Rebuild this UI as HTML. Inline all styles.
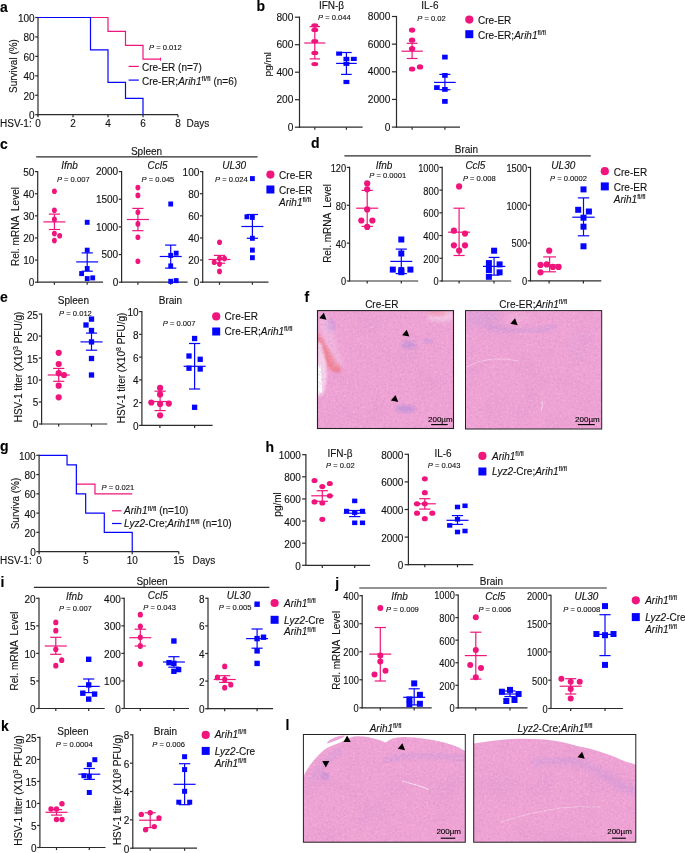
<!DOCTYPE html>
<html><head><meta charset="utf-8"><style>
html,body{margin:0;padding:0;background:#fff;}
svg{display:block;font-family:"Liberation Sans", sans-serif;will-change:transform;}
text{stroke:#111;stroke-width:0.12px;paint-order:stroke;}
</style></head><body>
<svg width="685" height="853" viewBox="0 0 685 853">
<defs>
<filter id="tex" x="0" y="0" width="100%" height="100%" color-interpolation-filters="sRGB">
  <feTurbulence type="fractalNoise" baseFrequency="0.42" numOctaves="2" seed="3" result="n"/>
  <feColorMatrix in="n" type="matrix" values="0 0 0 0 0.80  0 0 0 0 0.50  0 0 0 0 0.78  2.2 0 0 0 -1.15" result="dark"/>
  <feTurbulence type="fractalNoise" baseFrequency="0.45" numOctaves="2" seed="11" result="n2"/>
  <feColorMatrix in="n2" type="matrix" values="0 0 0 0 1.0  0 0 0 0 0.80  0 0 0 0 0.92  2.2 0 0 0 -1.15" result="light"/>
  <feTurbulence type="fractalNoise" baseFrequency="0.035" numOctaves="2" seed="5" result="n3"/>
  <feColorMatrix in="n3" type="matrix" values="0 0 0 0 0.82  0 0 0 0 0.56  0 0 0 0 0.80  1.4 0 0 0 -0.7" result="low"/>
  <feMerge result="m"><feMergeNode in="low"/><feMergeNode in="dark"/><feMergeNode in="light"/></feMerge>
  <feGaussianBlur in="m" stdDeviation="0.45" result="mb"/>
  <feComposite in="mb" in2="SourceAlpha" operator="in"/>
</filter>
<filter id="bl2"><feGaussianBlur stdDeviation="2"/></filter>
<filter id="bl1"><feGaussianBlur stdDeviation="1"/></filter>
<filter id="bl3"><feGaussianBlur stdDeviation="3.5"/></filter>
<clipPath id="cf1"><rect x="317.5" y="310.6" width="136" height="117.9"/></clipPath>
<clipPath id="cf2"><rect x="465.5" y="310.6" width="136.2" height="118.4"/></clipPath>
<clipPath id="cl1"><rect x="303.4" y="734.5" width="161.9" height="107.7"/></clipPath>
<clipPath id="cl2"><rect x="473.7" y="734.5" width="162.1" height="107.7"/></clipPath>
</defs>
<text x="0.00" y="11.50" font-size="14" text-anchor="start" font-weight="bold" font-style="normal" fill="#000">a</text>
<line x1="38.00" y1="115.30" x2="38.00" y2="16.90" stroke="#2b2b2b" stroke-width="1.2"/>
<line x1="35.20" y1="114.70" x2="38.00" y2="114.70" stroke="#2b2b2b" stroke-width="1.2"/>
<text x="34.60" y="119.15" font-size="10.0" text-anchor="end" font-weight="normal" font-style="normal" fill="#111">0</text>
<line x1="35.20" y1="95.26" x2="38.00" y2="95.26" stroke="#2b2b2b" stroke-width="1.2"/>
<text x="34.60" y="99.71" font-size="10.0" text-anchor="end" font-weight="normal" font-style="normal" fill="#111">20</text>
<line x1="35.20" y1="75.82" x2="38.00" y2="75.82" stroke="#2b2b2b" stroke-width="1.2"/>
<text x="34.60" y="80.27" font-size="10.0" text-anchor="end" font-weight="normal" font-style="normal" fill="#111">40</text>
<line x1="35.20" y1="56.38" x2="38.00" y2="56.38" stroke="#2b2b2b" stroke-width="1.2"/>
<text x="34.60" y="60.83" font-size="10.0" text-anchor="end" font-weight="normal" font-style="normal" fill="#111">60</text>
<line x1="35.20" y1="36.94" x2="38.00" y2="36.94" stroke="#2b2b2b" stroke-width="1.2"/>
<text x="34.60" y="41.39" font-size="10.0" text-anchor="end" font-weight="normal" font-style="normal" fill="#111">80</text>
<line x1="35.20" y1="17.50" x2="38.00" y2="17.50" stroke="#2b2b2b" stroke-width="1.2"/>
<text x="34.60" y="21.95" font-size="10.0" text-anchor="end" font-weight="normal" font-style="normal" fill="#111">100</text>
<line x1="37.40" y1="114.70" x2="178.00" y2="114.70" stroke="#2b2b2b" stroke-width="1.2"/>
<line x1="38.00" y1="114.70" x2="38.00" y2="117.30" stroke="#2b2b2b" stroke-width="1.2"/>
<text x="38.00" y="127.20" font-size="10.0" text-anchor="middle" font-weight="normal" font-style="normal" fill="#111">0</text>
<line x1="73.00" y1="114.70" x2="73.00" y2="117.30" stroke="#2b2b2b" stroke-width="1.2"/>
<text x="73.00" y="127.20" font-size="10.0" text-anchor="middle" font-weight="normal" font-style="normal" fill="#111">2</text>
<line x1="108.00" y1="114.70" x2="108.00" y2="117.30" stroke="#2b2b2b" stroke-width="1.2"/>
<text x="108.00" y="127.20" font-size="10.0" text-anchor="middle" font-weight="normal" font-style="normal" fill="#111">4</text>
<line x1="143.00" y1="114.70" x2="143.00" y2="117.30" stroke="#2b2b2b" stroke-width="1.2"/>
<text x="143.00" y="127.20" font-size="10.0" text-anchor="middle" font-weight="normal" font-style="normal" fill="#111">6</text>
<line x1="178.00" y1="114.70" x2="178.00" y2="117.30" stroke="#2b2b2b" stroke-width="1.2"/>
<text x="178.00" y="127.20" font-size="10.0" text-anchor="middle" font-weight="normal" font-style="normal" fill="#111">8</text>
<text x="0.00" y="127.20" font-size="10.0" text-anchor="start" font-weight="normal" font-style="normal" fill="#111">HSV-1:</text>
<text x="186.50" y="127.20" font-size="10.0" text-anchor="start" font-weight="normal" font-style="normal" fill="#111">Days</text>
<text x="16.50" y="66.00" font-size="10.0" text-anchor="middle" font-weight="normal" font-style="normal" fill="#111" transform="rotate(-90 16.50 66.00)" xml:space="preserve">Survival (%)</text>
<polyline points="38.00,17.50 108.00,17.50 108.00,31.40 125.50,31.40 125.50,45.30 143.00,45.30 143.00,59.20 160.50,59.20" fill="none" stroke="#ef157c" stroke-width="1.2"/>
<line x1="160.50" y1="57.70" x2="160.50" y2="60.70" stroke="#ef157c" stroke-width="1.0"/>
<polyline points="38.00,17.50 90.50,17.50 90.50,49.87 108.00,49.87 108.00,82.33 125.50,82.33 125.50,98.47 143.00,98.47 143.00,114.70" fill="none" stroke="#0505ff" stroke-width="1.2"/>
<text x="149.00" y="49.50" font-size="7.6" fill="#111" text-anchor="start"><tspan font-style="italic">P</tspan> = 0.012</text>
<line x1="128.60" y1="66.40" x2="138.80" y2="66.40" stroke="#ef157c" stroke-width="1.2"/>
<text x="142.00" y="71.10" font-size="10.0" text-anchor="start" font-weight="normal" font-style="normal" fill="#111">Cre-ER (n=7)</text>
<line x1="128.60" y1="80.10" x2="138.80" y2="80.10" stroke="#0505ff" stroke-width="1.2"/>
<text x="142.00" y="84.50" font-size="10.0" fill="#111" text-anchor="start">Cre-ER;<tspan font-style="italic">Arih1</tspan><tspan font-size="7.2" dy="-3.4" font-style="normal">fl/fl</tspan><tspan dy="3.4"> </tspan>(n=6)</text>
<text x="256.50" y="10.50" font-size="14" text-anchor="start" font-weight="bold" font-style="normal" fill="#000">b</text>
<line x1="299.50" y1="127.80" x2="299.50" y2="16.60" stroke="#2b2b2b" stroke-width="1.2"/>
<line x1="294.90" y1="127.20" x2="299.50" y2="127.20" stroke="#2b2b2b" stroke-width="1.2"/>
<text x="293.40" y="130.62" font-size="10.2" text-anchor="end" font-weight="normal" font-style="normal" fill="#111">0</text>
<line x1="294.90" y1="99.70" x2="299.50" y2="99.70" stroke="#2b2b2b" stroke-width="1.2"/>
<text x="293.40" y="103.12" font-size="10.2" text-anchor="end" font-weight="normal" font-style="normal" fill="#111">200</text>
<line x1="294.90" y1="72.20" x2="299.50" y2="72.20" stroke="#2b2b2b" stroke-width="1.2"/>
<text x="293.40" y="75.62" font-size="10.2" text-anchor="end" font-weight="normal" font-style="normal" fill="#111">400</text>
<line x1="294.90" y1="44.70" x2="299.50" y2="44.70" stroke="#2b2b2b" stroke-width="1.2"/>
<text x="293.40" y="48.12" font-size="10.2" text-anchor="end" font-weight="normal" font-style="normal" fill="#111">600</text>
<line x1="294.90" y1="17.20" x2="299.50" y2="17.20" stroke="#2b2b2b" stroke-width="1.2"/>
<text x="293.40" y="20.62" font-size="10.2" text-anchor="end" font-weight="normal" font-style="normal" fill="#111">800</text>
<line x1="298.90" y1="127.20" x2="362.60" y2="127.20" stroke="#2b2b2b" stroke-width="1.2"/>
<line x1="314.80" y1="127.20" x2="314.80" y2="129.80" stroke="#2b2b2b" stroke-width="1.2"/>
<line x1="346.40" y1="127.20" x2="346.40" y2="129.80" stroke="#2b2b2b" stroke-width="1.2"/>
<text x="331.50" y="8.80" font-size="10.0" text-anchor="middle" font-weight="normal" font-style="normal" fill="#111">IFN-β</text>
<text x="318.00" y="20.30" font-size="7.6" fill="#111" text-anchor="start"><tspan font-style="italic">P</tspan> = 0.044</text>
<text x="0" y="0" transform="translate(270.60 64.20) rotate(-90) scale(1 0.82)" font-size="10.0" text-anchor="middle" fill="#111" xml:space="preserve">pg/ml</text>
<ellipse cx="314.80" cy="25.50" rx="3.5" ry="2.2" fill="#ef157c"/>
<ellipse cx="314.80" cy="30.00" rx="3.5" ry="2.2" fill="#ef157c"/>
<ellipse cx="314.80" cy="41.20" rx="3.5" ry="2.2" fill="#ef157c"/>
<ellipse cx="314.80" cy="52.90" rx="3.5" ry="2.2" fill="#ef157c"/>
<ellipse cx="314.80" cy="64.10" rx="3.5" ry="2.2" fill="#ef157c"/>
<line x1="304.20" y1="43.00" x2="325.40" y2="43.00" stroke="#ef157c" stroke-width="1.2"/>
<line x1="314.80" y1="26.60" x2="314.80" y2="58.90" stroke="#ef157c" stroke-width="1.2"/>
<line x1="309.60" y1="26.60" x2="320.00" y2="26.60" stroke="#ef157c" stroke-width="1.2"/>
<line x1="309.60" y1="58.90" x2="320.00" y2="58.90" stroke="#ef157c" stroke-width="1.2"/>
<rect x="336.15" y="51.50" width="5.9" height="4.2" fill="#0505ff"/>
<rect x="343.45" y="56.80" width="5.9" height="4.2" fill="#0505ff"/>
<rect x="350.85" y="56.80" width="5.9" height="4.2" fill="#0505ff"/>
<rect x="343.45" y="61.70" width="5.9" height="4.2" fill="#0505ff"/>
<rect x="343.45" y="79.90" width="5.9" height="4.2" fill="#0505ff"/>
<line x1="336.10" y1="63.40" x2="356.70" y2="63.40" stroke="#0505ff" stroke-width="1.2"/>
<line x1="346.40" y1="52.50" x2="346.40" y2="74.40" stroke="#0505ff" stroke-width="1.2"/>
<line x1="341.10" y1="52.50" x2="351.70" y2="52.50" stroke="#0505ff" stroke-width="1.2"/>
<line x1="341.10" y1="74.40" x2="351.70" y2="74.40" stroke="#0505ff" stroke-width="1.2"/>
<line x1="396.50" y1="127.70" x2="396.50" y2="15.90" stroke="#2b2b2b" stroke-width="1.2"/>
<line x1="391.90" y1="127.10" x2="396.50" y2="127.10" stroke="#2b2b2b" stroke-width="1.2"/>
<text x="390.40" y="130.52" font-size="10.2" text-anchor="end" font-weight="normal" font-style="normal" fill="#111">0</text>
<line x1="391.90" y1="99.45" x2="396.50" y2="99.45" stroke="#2b2b2b" stroke-width="1.2"/>
<text x="390.40" y="102.87" font-size="10.2" text-anchor="end" font-weight="normal" font-style="normal" fill="#111">2000</text>
<line x1="391.90" y1="71.80" x2="396.50" y2="71.80" stroke="#2b2b2b" stroke-width="1.2"/>
<text x="390.40" y="75.22" font-size="10.2" text-anchor="end" font-weight="normal" font-style="normal" fill="#111">4000</text>
<line x1="391.90" y1="44.15" x2="396.50" y2="44.15" stroke="#2b2b2b" stroke-width="1.2"/>
<text x="390.40" y="47.57" font-size="10.2" text-anchor="end" font-weight="normal" font-style="normal" fill="#111">6000</text>
<line x1="391.90" y1="16.50" x2="396.50" y2="16.50" stroke="#2b2b2b" stroke-width="1.2"/>
<text x="390.40" y="19.92" font-size="10.2" text-anchor="end" font-weight="normal" font-style="normal" fill="#111">8000</text>
<line x1="395.90" y1="127.20" x2="460.00" y2="127.20" stroke="#2b2b2b" stroke-width="1.2"/>
<line x1="412.10" y1="127.20" x2="412.10" y2="129.80" stroke="#2b2b2b" stroke-width="1.2"/>
<line x1="444.90" y1="127.20" x2="444.90" y2="129.80" stroke="#2b2b2b" stroke-width="1.2"/>
<text x="429.90" y="8.80" font-size="10.0" text-anchor="middle" font-weight="normal" font-style="normal" fill="#111">IL-6</text>
<text x="417.20" y="20.50" font-size="7.6" fill="#111" text-anchor="start"><tspan font-style="italic">P</tspan> = 0.02</text>
<ellipse cx="412.10" cy="30.10" rx="3.2" ry="2.6" fill="#ef157c"/>
<ellipse cx="412.10" cy="40.20" rx="3.2" ry="2.6" fill="#ef157c"/>
<ellipse cx="412.10" cy="48.70" rx="3.2" ry="2.6" fill="#ef157c"/>
<ellipse cx="412.10" cy="69.00" rx="3.2" ry="2.6" fill="#ef157c"/>
<ellipse cx="420.00" cy="66.90" rx="3.2" ry="2.6" fill="#ef157c"/>
<line x1="401.40" y1="51.20" x2="422.80" y2="51.20" stroke="#ef157c" stroke-width="1.2"/>
<line x1="412.10" y1="43.30" x2="412.10" y2="58.50" stroke="#ef157c" stroke-width="1.2"/>
<line x1="406.70" y1="43.30" x2="417.50" y2="43.30" stroke="#ef157c" stroke-width="1.2"/>
<line x1="406.70" y1="58.50" x2="417.50" y2="58.50" stroke="#ef157c" stroke-width="1.2"/>
<rect x="442.10" y="54.70" width="5.6" height="4.8" fill="#0505ff"/>
<rect x="442.10" y="73.00" width="5.6" height="4.8" fill="#0505ff"/>
<rect x="434.10" y="85.20" width="5.6" height="4.8" fill="#0505ff"/>
<rect x="442.10" y="87.00" width="5.6" height="4.8" fill="#0505ff"/>
<rect x="442.10" y="99.00" width="5.6" height="4.8" fill="#0505ff"/>
<line x1="434.10" y1="82.40" x2="455.70" y2="82.40" stroke="#0505ff" stroke-width="1.2"/>
<line x1="444.90" y1="74.40" x2="444.90" y2="89.70" stroke="#0505ff" stroke-width="1.2"/>
<line x1="439.40" y1="74.40" x2="450.40" y2="74.40" stroke="#0505ff" stroke-width="1.2"/>
<line x1="439.40" y1="89.70" x2="450.40" y2="89.70" stroke="#0505ff" stroke-width="1.2"/>
<ellipse cx="469.30" cy="19.60" rx="4.1" ry="4.1" fill="#ef157c"/>
<rect x="465.30" y="30.20" width="8.0" height="8.0" fill="#0505ff"/>
<text x="478.00" y="24.10" font-size="10.0" text-anchor="start" font-weight="normal" font-style="normal" fill="#111">Cre-ER</text>
<text x="478.00" y="38.70" font-size="10.0" fill="#111" text-anchor="start">Cre-ER;<tspan font-style="italic">Arih1</tspan><tspan font-size="6.6" dy="-3.9" font-style="normal">fl/fl</tspan><tspan dy="3.9"></tspan></text>
<text x="0.00" y="148.60" font-size="14" text-anchor="start" font-weight="bold" font-style="normal" fill="#000">c</text>
<line x1="36.20" y1="156.90" x2="257.60" y2="156.90" stroke="#2b2b2b" stroke-width="1.2"/>
<text x="146.50" y="155.10" font-size="10.0" text-anchor="middle" font-weight="normal" font-style="normal" fill="#111">Spleen</text>
<text x="18.50" y="226.50" font-size="10.0" text-anchor="middle" font-weight="normal" font-style="normal" fill="#111" transform="rotate(-90 18.50 226.50)" xml:space="preserve">Rel. mRNA  Level</text>
<line x1="37.70" y1="282.80" x2="37.70" y2="171.00" stroke="#2b2b2b" stroke-width="1.2"/>
<line x1="34.90" y1="282.20" x2="37.70" y2="282.20" stroke="#2b2b2b" stroke-width="1.2"/>
<text x="34.30" y="286.25" font-size="10.0" text-anchor="end" font-weight="normal" font-style="normal" fill="#111">0</text>
<line x1="34.90" y1="260.08" x2="37.70" y2="260.08" stroke="#2b2b2b" stroke-width="1.2"/>
<text x="34.30" y="264.13" font-size="10.0" text-anchor="end" font-weight="normal" font-style="normal" fill="#111">10</text>
<line x1="34.90" y1="237.96" x2="37.70" y2="237.96" stroke="#2b2b2b" stroke-width="1.2"/>
<text x="34.30" y="242.01" font-size="10.0" text-anchor="end" font-weight="normal" font-style="normal" fill="#111">20</text>
<line x1="34.90" y1="215.84" x2="37.70" y2="215.84" stroke="#2b2b2b" stroke-width="1.2"/>
<text x="34.30" y="219.89" font-size="10.0" text-anchor="end" font-weight="normal" font-style="normal" fill="#111">30</text>
<line x1="34.90" y1="193.72" x2="37.70" y2="193.72" stroke="#2b2b2b" stroke-width="1.2"/>
<text x="34.30" y="197.77" font-size="10.0" text-anchor="end" font-weight="normal" font-style="normal" fill="#111">40</text>
<line x1="34.90" y1="171.60" x2="37.70" y2="171.60" stroke="#2b2b2b" stroke-width="1.2"/>
<text x="34.30" y="175.65" font-size="10.0" text-anchor="end" font-weight="normal" font-style="normal" fill="#111">50</text>
<line x1="37.10" y1="282.20" x2="103.00" y2="282.20" stroke="#2b2b2b" stroke-width="1.2"/>
<line x1="54.40" y1="282.20" x2="54.40" y2="284.80" stroke="#2b2b2b" stroke-width="1.2"/>
<line x1="87.20" y1="282.20" x2="87.20" y2="284.80" stroke="#2b2b2b" stroke-width="1.2"/>
<text x="69.60" y="169.00" font-size="10.0" text-anchor="middle" font-weight="normal" font-style="italic" fill="#111">Ifnb</text>
<text x="56.90" y="182.10" font-size="7.6" fill="#111" text-anchor="start"><tspan font-style="italic">P</tspan> = 0.007</text>
<ellipse cx="54.40" cy="191.30" rx="2.45" ry="2.8" fill="#ef157c"/>
<ellipse cx="54.40" cy="210.20" rx="2.45" ry="2.8" fill="#ef157c"/>
<ellipse cx="54.40" cy="219.40" rx="2.45" ry="2.8" fill="#ef157c"/>
<ellipse cx="54.40" cy="233.60" rx="2.45" ry="2.8" fill="#ef157c"/>
<ellipse cx="59.70" cy="235.70" rx="2.45" ry="2.8" fill="#ef157c"/>
<ellipse cx="54.40" cy="240.60" rx="2.45" ry="2.8" fill="#ef157c"/>
<line x1="43.40" y1="221.90" x2="65.40" y2="221.90" stroke="#ef157c" stroke-width="1.2"/>
<line x1="54.40" y1="214.10" x2="54.40" y2="229.50" stroke="#ef157c" stroke-width="1.2"/>
<line x1="48.80" y1="214.10" x2="60.00" y2="214.10" stroke="#ef157c" stroke-width="1.2"/>
<line x1="48.80" y1="229.50" x2="60.00" y2="229.50" stroke="#ef157c" stroke-width="1.2"/>
<rect x="84.80" y="219.80" width="4.8" height="5.0" fill="#0505ff"/>
<rect x="84.80" y="247.70" width="4.8" height="5.0" fill="#0505ff"/>
<rect x="84.80" y="266.00" width="4.8" height="5.0" fill="#0505ff"/>
<rect x="79.20" y="271.10" width="4.8" height="5.0" fill="#0505ff"/>
<rect x="84.80" y="276.10" width="4.8" height="5.0" fill="#0505ff"/>
<rect x="90.30" y="275.40" width="4.8" height="5.0" fill="#0505ff"/>
<line x1="76.20" y1="261.90" x2="98.20" y2="261.90" stroke="#0505ff" stroke-width="1.2"/>
<line x1="87.20" y1="252.90" x2="87.20" y2="271.20" stroke="#0505ff" stroke-width="1.2"/>
<line x1="81.60" y1="252.90" x2="92.80" y2="252.90" stroke="#0505ff" stroke-width="1.2"/>
<line x1="81.60" y1="271.20" x2="92.80" y2="271.20" stroke="#0505ff" stroke-width="1.2"/>
<line x1="121.60" y1="282.80" x2="121.60" y2="171.00" stroke="#2b2b2b" stroke-width="1.2"/>
<line x1="118.80" y1="282.20" x2="121.60" y2="282.20" stroke="#2b2b2b" stroke-width="1.2"/>
<text x="118.20" y="286.05" font-size="10.0" text-anchor="end" font-weight="normal" font-style="normal" fill="#111">0</text>
<line x1="118.80" y1="254.55" x2="121.60" y2="254.55" stroke="#2b2b2b" stroke-width="1.2"/>
<text x="118.20" y="258.40" font-size="10.0" text-anchor="end" font-weight="normal" font-style="normal" fill="#111">500</text>
<line x1="118.80" y1="226.90" x2="121.60" y2="226.90" stroke="#2b2b2b" stroke-width="1.2"/>
<text x="118.20" y="230.75" font-size="10.0" text-anchor="end" font-weight="normal" font-style="normal" fill="#111">1000</text>
<line x1="118.80" y1="199.25" x2="121.60" y2="199.25" stroke="#2b2b2b" stroke-width="1.2"/>
<text x="118.20" y="203.10" font-size="10.0" text-anchor="end" font-weight="normal" font-style="normal" fill="#111">1500</text>
<line x1="118.80" y1="171.60" x2="121.60" y2="171.60" stroke="#2b2b2b" stroke-width="1.2"/>
<text x="118.20" y="175.45" font-size="10.0" text-anchor="end" font-weight="normal" font-style="normal" fill="#111">2000</text>
<line x1="121.00" y1="282.20" x2="187.60" y2="282.20" stroke="#2b2b2b" stroke-width="1.2"/>
<line x1="137.90" y1="282.20" x2="137.90" y2="284.80" stroke="#2b2b2b" stroke-width="1.2"/>
<line x1="170.70" y1="282.20" x2="170.70" y2="284.80" stroke="#2b2b2b" stroke-width="1.2"/>
<text x="157.60" y="169.00" font-size="10.0" text-anchor="middle" font-weight="normal" font-style="italic" fill="#111">Ccl5</text>
<text x="141.60" y="182.10" font-size="7.6" fill="#111" text-anchor="start"><tspan font-style="italic">P</tspan> = 0.045</text>
<ellipse cx="137.90" cy="187.60" rx="2.45" ry="2.8" fill="#ef157c"/>
<ellipse cx="137.90" cy="195.40" rx="2.45" ry="2.8" fill="#ef157c"/>
<ellipse cx="137.90" cy="212.30" rx="2.45" ry="2.8" fill="#ef157c"/>
<ellipse cx="137.90" cy="223.90" rx="2.45" ry="2.8" fill="#ef157c"/>
<ellipse cx="137.90" cy="237.30" rx="2.45" ry="2.8" fill="#ef157c"/>
<ellipse cx="137.90" cy="261.30" rx="2.45" ry="2.8" fill="#ef157c"/>
<line x1="126.90" y1="219.50" x2="148.90" y2="219.50" stroke="#ef157c" stroke-width="1.2"/>
<line x1="137.90" y1="208.40" x2="137.90" y2="230.70" stroke="#ef157c" stroke-width="1.2"/>
<line x1="132.30" y1="208.40" x2="143.50" y2="208.40" stroke="#ef157c" stroke-width="1.2"/>
<line x1="132.30" y1="230.70" x2="143.50" y2="230.70" stroke="#ef157c" stroke-width="1.2"/>
<rect x="168.30" y="201.50" width="4.8" height="5.0" fill="#0505ff"/>
<rect x="173.80" y="250.70" width="4.8" height="5.0" fill="#0505ff"/>
<rect x="168.30" y="252.90" width="4.8" height="5.0" fill="#0505ff"/>
<rect x="168.30" y="263.40" width="4.8" height="5.0" fill="#0505ff"/>
<rect x="168.30" y="278.80" width="4.8" height="5.0" fill="#0505ff"/>
<rect x="173.80" y="278.10" width="4.8" height="5.0" fill="#0505ff"/>
<line x1="159.70" y1="256.50" x2="181.70" y2="256.50" stroke="#0505ff" stroke-width="1.2"/>
<line x1="170.70" y1="245.10" x2="170.70" y2="268.10" stroke="#0505ff" stroke-width="1.2"/>
<line x1="165.10" y1="245.10" x2="176.30" y2="245.10" stroke="#0505ff" stroke-width="1.2"/>
<line x1="165.10" y1="268.10" x2="176.30" y2="268.10" stroke="#0505ff" stroke-width="1.2"/>
<line x1="202.70" y1="282.80" x2="202.70" y2="171.00" stroke="#2b2b2b" stroke-width="1.2"/>
<line x1="199.90" y1="282.20" x2="202.70" y2="282.20" stroke="#2b2b2b" stroke-width="1.2"/>
<text x="199.30" y="286.25" font-size="10.0" text-anchor="end" font-weight="normal" font-style="normal" fill="#111">0</text>
<line x1="199.90" y1="260.08" x2="202.70" y2="260.08" stroke="#2b2b2b" stroke-width="1.2"/>
<text x="199.30" y="264.13" font-size="10.0" text-anchor="end" font-weight="normal" font-style="normal" fill="#111">20</text>
<line x1="199.90" y1="237.96" x2="202.70" y2="237.96" stroke="#2b2b2b" stroke-width="1.2"/>
<text x="199.30" y="242.01" font-size="10.0" text-anchor="end" font-weight="normal" font-style="normal" fill="#111">40</text>
<line x1="199.90" y1="215.84" x2="202.70" y2="215.84" stroke="#2b2b2b" stroke-width="1.2"/>
<text x="199.30" y="219.89" font-size="10.0" text-anchor="end" font-weight="normal" font-style="normal" fill="#111">60</text>
<line x1="199.90" y1="193.72" x2="202.70" y2="193.72" stroke="#2b2b2b" stroke-width="1.2"/>
<text x="199.30" y="197.77" font-size="10.0" text-anchor="end" font-weight="normal" font-style="normal" fill="#111">80</text>
<line x1="199.90" y1="171.60" x2="202.70" y2="171.60" stroke="#2b2b2b" stroke-width="1.2"/>
<text x="199.30" y="175.65" font-size="10.0" text-anchor="end" font-weight="normal" font-style="normal" fill="#111">100</text>
<line x1="202.10" y1="282.20" x2="268.50" y2="282.20" stroke="#2b2b2b" stroke-width="1.2"/>
<line x1="219.50" y1="282.20" x2="219.50" y2="284.80" stroke="#2b2b2b" stroke-width="1.2"/>
<line x1="252.40" y1="282.20" x2="252.40" y2="284.80" stroke="#2b2b2b" stroke-width="1.2"/>
<text x="234.20" y="168.60" font-size="10.0" text-anchor="middle" font-weight="normal" font-style="italic" fill="#111">UL30</text>
<text x="215.00" y="181.90" font-size="7.6" fill="#111" text-anchor="start"><tspan font-style="italic">P</tspan> = 0.024</text>
<ellipse cx="219.50" cy="242.30" rx="2.45" ry="2.8" fill="#ef157c"/>
<ellipse cx="214.20" cy="262.30" rx="2.45" ry="2.8" fill="#ef157c"/>
<ellipse cx="219.50" cy="264.10" rx="2.45" ry="2.8" fill="#ef157c"/>
<ellipse cx="224.50" cy="258.60" rx="2.45" ry="2.8" fill="#ef157c"/>
<ellipse cx="219.50" cy="271.40" rx="2.45" ry="2.8" fill="#ef157c"/>
<ellipse cx="219.50" cy="258.30" rx="2.45" ry="2.8" fill="#ef157c"/>
<line x1="208.50" y1="259.50" x2="230.50" y2="259.50" stroke="#ef157c" stroke-width="1.2"/>
<line x1="219.50" y1="255.40" x2="219.50" y2="263.20" stroke="#ef157c" stroke-width="1.2"/>
<line x1="213.90" y1="255.40" x2="225.10" y2="255.40" stroke="#ef157c" stroke-width="1.2"/>
<line x1="213.90" y1="263.20" x2="225.10" y2="263.20" stroke="#ef157c" stroke-width="1.2"/>
<rect x="250.00" y="176.10" width="4.8" height="5.0" fill="#0505ff"/>
<rect x="244.50" y="214.30" width="4.8" height="5.0" fill="#0505ff"/>
<rect x="250.00" y="214.90" width="4.8" height="5.0" fill="#0505ff"/>
<rect x="250.00" y="235.80" width="4.8" height="5.0" fill="#0505ff"/>
<rect x="250.00" y="247.60" width="4.8" height="5.0" fill="#0505ff"/>
<rect x="250.00" y="255.20" width="4.8" height="5.0" fill="#0505ff"/>
<line x1="241.40" y1="226.50" x2="263.40" y2="226.50" stroke="#0505ff" stroke-width="1.2"/>
<line x1="252.40" y1="214.50" x2="252.40" y2="238.30" stroke="#0505ff" stroke-width="1.2"/>
<line x1="246.80" y1="214.50" x2="258.00" y2="214.50" stroke="#0505ff" stroke-width="1.2"/>
<line x1="246.80" y1="238.30" x2="258.00" y2="238.30" stroke="#0505ff" stroke-width="1.2"/>
<ellipse cx="270.40" cy="174.60" rx="4.1" ry="4.1" fill="#ef157c"/>
<rect x="266.40" y="185.50" width="8.0" height="8.0" fill="#0505ff"/>
<text x="279.10" y="179.00" font-size="10.0" text-anchor="start" font-weight="normal" font-style="normal" fill="#111">Cre-ER</text>
<text x="279.10" y="194.10" font-size="10.0" text-anchor="start" font-weight="normal" font-style="normal" fill="#111">Cre-ER</text>
<text x="279.10" y="205.90" font-size="10.0" fill="#111" text-anchor="start"><tspan font-style="italic">Arih1</tspan><tspan font-size="6.6" dy="-3.9" font-style="normal">fl/fl</tspan><tspan dy="3.9"></tspan></text>
<text x="311.00" y="148.10" font-size="14" text-anchor="start" font-weight="bold" font-style="normal" fill="#000">d</text>
<line x1="344.40" y1="155.80" x2="590.80" y2="155.80" stroke="#2b2b2b" stroke-width="1.2"/>
<text x="466.40" y="152.80" font-size="10.0" text-anchor="middle" font-weight="normal" font-style="normal" fill="#111">Brain</text>
<text x="331.00" y="223.40" font-size="10.0" text-anchor="middle" font-weight="normal" font-style="normal" fill="#111" transform="rotate(-90 331.00 223.40)" xml:space="preserve">Rel. mRNA  Level</text>
<line x1="349.60" y1="281.60" x2="349.60" y2="166.80" stroke="#2b2b2b" stroke-width="1.2"/>
<line x1="346.80" y1="281.00" x2="349.60" y2="281.00" stroke="#2b2b2b" stroke-width="1.2"/>
<text x="0" y="0" transform="translate(346.20 285.45) scale(0.93 1)" font-size="10.0" text-anchor="end" font-weight="normal" font-style="normal" fill="#111">0</text>
<line x1="346.80" y1="243.13" x2="349.60" y2="243.13" stroke="#2b2b2b" stroke-width="1.2"/>
<text x="0" y="0" transform="translate(346.20 247.58) scale(0.93 1)" font-size="10.0" text-anchor="end" font-weight="normal" font-style="normal" fill="#111">40</text>
<line x1="346.80" y1="205.27" x2="349.60" y2="205.27" stroke="#2b2b2b" stroke-width="1.2"/>
<text x="0" y="0" transform="translate(346.20 209.72) scale(0.93 1)" font-size="10.0" text-anchor="end" font-weight="normal" font-style="normal" fill="#111">80</text>
<line x1="346.80" y1="167.40" x2="349.60" y2="167.40" stroke="#2b2b2b" stroke-width="1.2"/>
<text x="0" y="0" transform="translate(346.20 171.85) scale(0.93 1)" font-size="10.0" text-anchor="end" font-weight="normal" font-style="normal" fill="#111">120</text>
<line x1="349.00" y1="281.00" x2="418.20" y2="281.00" stroke="#2b2b2b" stroke-width="1.2"/>
<line x1="367.20" y1="281.00" x2="367.20" y2="283.60" stroke="#2b2b2b" stroke-width="1.2"/>
<line x1="401.30" y1="281.00" x2="401.30" y2="283.60" stroke="#2b2b2b" stroke-width="1.2"/>
<text x="384.10" y="168.90" font-size="10.0" text-anchor="middle" font-weight="normal" font-style="italic" fill="#111">Ifnb</text>
<text x="369.20" y="178.20" font-size="7.6" fill="#111" text-anchor="start"><tspan font-style="italic">P</tspan> = 0.0001</text>
<ellipse cx="367.20" cy="183.40" rx="3.1" ry="3.1" fill="#ef157c"/>
<ellipse cx="367.20" cy="189.30" rx="3.1" ry="3.1" fill="#ef157c"/>
<ellipse cx="367.20" cy="209.40" rx="3.1" ry="3.1" fill="#ef157c"/>
<ellipse cx="361.30" cy="220.50" rx="3.1" ry="3.1" fill="#ef157c"/>
<ellipse cx="372.40" cy="220.50" rx="3.1" ry="3.1" fill="#ef157c"/>
<ellipse cx="367.20" cy="226.90" rx="3.1" ry="3.1" fill="#ef157c"/>
<line x1="356.20" y1="208.20" x2="378.20" y2="208.20" stroke="#ef157c" stroke-width="1.2"/>
<line x1="367.20" y1="190.40" x2="367.20" y2="226.40" stroke="#ef157c" stroke-width="1.2"/>
<line x1="361.60" y1="190.40" x2="372.80" y2="190.40" stroke="#ef157c" stroke-width="1.2"/>
<line x1="361.60" y1="226.40" x2="372.80" y2="226.40" stroke="#ef157c" stroke-width="1.2"/>
<rect x="398.30" y="236.50" width="6" height="6" fill="#0505ff"/>
<rect x="398.30" y="250.50" width="6" height="6" fill="#0505ff"/>
<rect x="389.80" y="266.60" width="6" height="6" fill="#0505ff"/>
<rect x="398.30" y="267.10" width="6" height="6" fill="#0505ff"/>
<rect x="407.40" y="266.60" width="6" height="6" fill="#0505ff"/>
<rect x="398.30" y="269.20" width="6" height="6" fill="#0505ff"/>
<line x1="390.30" y1="261.40" x2="412.30" y2="261.40" stroke="#0505ff" stroke-width="1.2"/>
<line x1="401.30" y1="249.10" x2="401.30" y2="273.60" stroke="#0505ff" stroke-width="1.2"/>
<line x1="395.70" y1="249.10" x2="406.90" y2="249.10" stroke="#0505ff" stroke-width="1.2"/>
<line x1="395.70" y1="273.60" x2="406.90" y2="273.60" stroke="#0505ff" stroke-width="1.2"/>
<line x1="442.20" y1="281.60" x2="442.20" y2="166.80" stroke="#2b2b2b" stroke-width="1.2"/>
<line x1="439.40" y1="281.00" x2="442.20" y2="281.00" stroke="#2b2b2b" stroke-width="1.2"/>
<text x="0" y="0" transform="translate(438.80 285.45) scale(0.93 1)" font-size="10.0" text-anchor="end" font-weight="normal" font-style="normal" fill="#111">0</text>
<line x1="439.40" y1="258.28" x2="442.20" y2="258.28" stroke="#2b2b2b" stroke-width="1.2"/>
<text x="0" y="0" transform="translate(438.80 262.73) scale(0.93 1)" font-size="10.0" text-anchor="end" font-weight="normal" font-style="normal" fill="#111">200</text>
<line x1="439.40" y1="235.56" x2="442.20" y2="235.56" stroke="#2b2b2b" stroke-width="1.2"/>
<text x="0" y="0" transform="translate(438.80 240.01) scale(0.93 1)" font-size="10.0" text-anchor="end" font-weight="normal" font-style="normal" fill="#111">400</text>
<line x1="439.40" y1="212.84" x2="442.20" y2="212.84" stroke="#2b2b2b" stroke-width="1.2"/>
<text x="0" y="0" transform="translate(438.80 217.29) scale(0.93 1)" font-size="10.0" text-anchor="end" font-weight="normal" font-style="normal" fill="#111">600</text>
<line x1="439.40" y1="190.12" x2="442.20" y2="190.12" stroke="#2b2b2b" stroke-width="1.2"/>
<text x="0" y="0" transform="translate(438.80 194.57) scale(0.93 1)" font-size="10.0" text-anchor="end" font-weight="normal" font-style="normal" fill="#111">800</text>
<line x1="439.40" y1="167.40" x2="442.20" y2="167.40" stroke="#2b2b2b" stroke-width="1.2"/>
<text x="0" y="0" transform="translate(438.80 171.85) scale(0.93 1)" font-size="10.0" text-anchor="end" font-weight="normal" font-style="normal" fill="#111">1000</text>
<line x1="441.60" y1="281.00" x2="511.20" y2="281.00" stroke="#2b2b2b" stroke-width="1.2"/>
<line x1="459.10" y1="281.00" x2="459.10" y2="283.60" stroke="#2b2b2b" stroke-width="1.2"/>
<line x1="494.00" y1="281.00" x2="494.00" y2="283.60" stroke="#2b2b2b" stroke-width="1.2"/>
<text x="475.40" y="168.90" font-size="10.0" text-anchor="middle" font-weight="normal" font-style="italic" fill="#111">Ccl5</text>
<text x="462.90" y="180.90" font-size="7.6" fill="#111" text-anchor="start"><tspan font-style="italic">P</tspan> = 0.008</text>
<ellipse cx="459.10" cy="186.40" rx="3.1" ry="3.1" fill="#ef157c"/>
<ellipse cx="453.90" cy="230.70" rx="3.1" ry="3.1" fill="#ef157c"/>
<ellipse cx="465.00" cy="233.60" rx="3.1" ry="3.1" fill="#ef157c"/>
<ellipse cx="453.90" cy="245.30" rx="3.1" ry="3.1" fill="#ef157c"/>
<ellipse cx="465.00" cy="245.30" rx="3.1" ry="3.1" fill="#ef157c"/>
<ellipse cx="459.10" cy="250.60" rx="3.1" ry="3.1" fill="#ef157c"/>
<line x1="448.10" y1="232.20" x2="470.10" y2="232.20" stroke="#ef157c" stroke-width="1.2"/>
<line x1="459.10" y1="208.20" x2="459.10" y2="255.50" stroke="#ef157c" stroke-width="1.2"/>
<line x1="453.50" y1="208.20" x2="464.70" y2="208.20" stroke="#ef157c" stroke-width="1.2"/>
<line x1="453.50" y1="255.50" x2="464.70" y2="255.50" stroke="#ef157c" stroke-width="1.2"/>
<rect x="491.10" y="247.70" width="6" height="6" fill="#0505ff"/>
<rect x="485.90" y="260.10" width="6" height="6" fill="#0505ff"/>
<rect x="496.60" y="261.40" width="6" height="6" fill="#0505ff"/>
<rect x="485.90" y="267.00" width="6" height="6" fill="#0505ff"/>
<rect x="496.60" y="269.30" width="6" height="6" fill="#0505ff"/>
<rect x="485.90" y="273.80" width="6" height="6" fill="#0505ff"/>
<line x1="482.90" y1="266.40" x2="505.30" y2="266.40" stroke="#0505ff" stroke-width="1.2"/>
<line x1="494.10" y1="257.40" x2="494.10" y2="275.10" stroke="#0505ff" stroke-width="1.2"/>
<line x1="488.70" y1="257.40" x2="499.50" y2="257.40" stroke="#0505ff" stroke-width="1.2"/>
<line x1="488.70" y1="275.10" x2="499.50" y2="275.10" stroke="#0505ff" stroke-width="1.2"/>
<line x1="530.50" y1="281.40" x2="530.50" y2="166.80" stroke="#2b2b2b" stroke-width="1.2"/>
<line x1="527.70" y1="280.80" x2="530.50" y2="280.80" stroke="#2b2b2b" stroke-width="1.2"/>
<text x="0" y="0" transform="translate(527.10 285.25) scale(0.93 1)" font-size="10.0" text-anchor="end" font-weight="normal" font-style="normal" fill="#111">0</text>
<line x1="527.70" y1="243.00" x2="530.50" y2="243.00" stroke="#2b2b2b" stroke-width="1.2"/>
<text x="0" y="0" transform="translate(527.10 247.45) scale(0.93 1)" font-size="10.0" text-anchor="end" font-weight="normal" font-style="normal" fill="#111">500</text>
<line x1="527.70" y1="205.20" x2="530.50" y2="205.20" stroke="#2b2b2b" stroke-width="1.2"/>
<text x="0" y="0" transform="translate(527.10 209.65) scale(0.93 1)" font-size="10.0" text-anchor="end" font-weight="normal" font-style="normal" fill="#111">1000</text>
<line x1="527.70" y1="167.40" x2="530.50" y2="167.40" stroke="#2b2b2b" stroke-width="1.2"/>
<text x="0" y="0" transform="translate(527.10 171.85) scale(0.93 1)" font-size="10.0" text-anchor="end" font-weight="normal" font-style="normal" fill="#111">1500</text>
<line x1="529.90" y1="280.80" x2="601.30" y2="280.80" stroke="#2b2b2b" stroke-width="1.2"/>
<line x1="549.10" y1="280.80" x2="549.10" y2="283.40" stroke="#2b2b2b" stroke-width="1.2"/>
<line x1="583.40" y1="280.80" x2="583.40" y2="283.40" stroke="#2b2b2b" stroke-width="1.2"/>
<text x="563.30" y="168.90" font-size="10.0" text-anchor="middle" font-weight="normal" font-style="italic" fill="#111">UL30</text>
<text x="550.00" y="180.80" font-size="7.6" fill="#111" text-anchor="start"><tspan font-style="italic">P</tspan> = 0.0002</text>
<ellipse cx="549.20" cy="250.70" rx="3.1" ry="3.1" fill="#ef157c"/>
<ellipse cx="540.50" cy="264.90" rx="3.1" ry="3.1" fill="#ef157c"/>
<ellipse cx="546.70" cy="264.40" rx="3.1" ry="3.1" fill="#ef157c"/>
<ellipse cx="552.90" cy="266.90" rx="3.1" ry="3.1" fill="#ef157c"/>
<ellipse cx="558.60" cy="266.90" rx="3.1" ry="3.1" fill="#ef157c"/>
<ellipse cx="540.50" cy="272.30" rx="3.1" ry="3.1" fill="#ef157c"/>
<line x1="538.80" y1="264.90" x2="560.40" y2="264.90" stroke="#ef157c" stroke-width="1.2"/>
<line x1="549.60" y1="256.90" x2="549.60" y2="271.80" stroke="#ef157c" stroke-width="1.2"/>
<line x1="543.20" y1="256.90" x2="556.00" y2="256.90" stroke="#ef157c" stroke-width="1.2"/>
<line x1="543.20" y1="271.80" x2="556.00" y2="271.80" stroke="#ef157c" stroke-width="1.2"/>
<rect x="580.50" y="186.40" width="6" height="6" fill="#0505ff"/>
<rect x="575.20" y="206.80" width="6" height="6" fill="#0505ff"/>
<rect x="585.90" y="208.50" width="6" height="6" fill="#0505ff"/>
<rect x="580.50" y="214.70" width="6" height="6" fill="#0505ff"/>
<rect x="580.50" y="223.70" width="6" height="6" fill="#0505ff"/>
<rect x="580.50" y="243.30" width="6" height="6" fill="#0505ff"/>
<line x1="572.30" y1="217.20" x2="594.70" y2="217.20" stroke="#0505ff" stroke-width="1.2"/>
<line x1="583.50" y1="197.90" x2="583.50" y2="235.80" stroke="#0505ff" stroke-width="1.2"/>
<line x1="577.80" y1="197.90" x2="589.20" y2="197.90" stroke="#0505ff" stroke-width="1.2"/>
<line x1="577.80" y1="235.80" x2="589.20" y2="235.80" stroke="#0505ff" stroke-width="1.2"/>
<ellipse cx="604.80" cy="171.20" rx="4.1" ry="4.1" fill="#ef157c"/>
<rect x="600.80" y="182.40" width="8.0" height="8.0" fill="#0505ff"/>
<text x="613.80" y="175.80" font-size="10.0" text-anchor="start" font-weight="normal" font-style="normal" fill="#111">Cre-ER</text>
<text x="613.80" y="190.70" font-size="10.0" text-anchor="start" font-weight="normal" font-style="normal" fill="#111">Cre-ER</text>
<text x="613.80" y="202.60" font-size="10.0" fill="#111" text-anchor="start"><tspan font-style="italic">Arih1</tspan><tspan font-size="6.6" dy="-3.9" font-style="normal">fl/fl</tspan><tspan dy="3.9"></tspan></text>
<text x="0.00" y="302.00" font-size="14" text-anchor="start" font-weight="bold" font-style="normal" fill="#000">e</text>
<line x1="41.60" y1="424.60" x2="41.60" y2="313.50" stroke="#2b2b2b" stroke-width="1.2"/>
<line x1="38.80" y1="424.00" x2="41.60" y2="424.00" stroke="#2b2b2b" stroke-width="1.2"/>
<text x="38.20" y="428.45" font-size="10.0" text-anchor="end" font-weight="normal" font-style="normal" fill="#111">0</text>
<line x1="38.80" y1="402.02" x2="41.60" y2="402.02" stroke="#2b2b2b" stroke-width="1.2"/>
<text x="38.20" y="406.47" font-size="10.0" text-anchor="end" font-weight="normal" font-style="normal" fill="#111">5</text>
<line x1="38.80" y1="380.04" x2="41.60" y2="380.04" stroke="#2b2b2b" stroke-width="1.2"/>
<text x="38.20" y="384.49" font-size="10.0" text-anchor="end" font-weight="normal" font-style="normal" fill="#111">10</text>
<line x1="38.80" y1="358.06" x2="41.60" y2="358.06" stroke="#2b2b2b" stroke-width="1.2"/>
<text x="38.20" y="362.51" font-size="10.0" text-anchor="end" font-weight="normal" font-style="normal" fill="#111">15</text>
<line x1="38.80" y1="336.08" x2="41.60" y2="336.08" stroke="#2b2b2b" stroke-width="1.2"/>
<text x="38.20" y="340.53" font-size="10.0" text-anchor="end" font-weight="normal" font-style="normal" fill="#111">20</text>
<line x1="38.80" y1="314.10" x2="41.60" y2="314.10" stroke="#2b2b2b" stroke-width="1.2"/>
<text x="38.20" y="318.55" font-size="10.0" text-anchor="end" font-weight="normal" font-style="normal" fill="#111">25</text>
<line x1="41.00" y1="424.00" x2="107.30" y2="424.00" stroke="#2b2b2b" stroke-width="1.2"/>
<line x1="58.70" y1="424.00" x2="58.70" y2="426.60" stroke="#2b2b2b" stroke-width="1.2"/>
<line x1="91.50" y1="424.00" x2="91.50" y2="426.60" stroke="#2b2b2b" stroke-width="1.2"/>
<text x="73.40" y="303.70" font-size="10.0" text-anchor="middle" font-weight="normal" font-style="normal" fill="#111">Spleen</text>
<text x="59.10" y="316.20" font-size="7.6" fill="#111" text-anchor="start"><tspan font-style="italic">P</tspan> = 0.012</text>
<text x="22.00" y="367.00" font-size="10.0" text-anchor="middle" font-weight="normal" font-style="normal" fill="#111" transform="rotate(-90 22.00 367.00)" xml:space="preserve">HSV-1 titer (X10<tspan font-size="7" dy="-3.6">3</tspan><tspan dy="3.6"> PFU/g)</tspan></text>
<ellipse cx="58.70" cy="352.80" rx="3.1" ry="3.1" fill="#ef157c"/>
<ellipse cx="58.70" cy="364.00" rx="3.1" ry="3.1" fill="#ef157c"/>
<ellipse cx="58.70" cy="373.20" rx="3.1" ry="3.1" fill="#ef157c"/>
<ellipse cx="64.00" cy="375.00" rx="3.1" ry="3.1" fill="#ef157c"/>
<ellipse cx="58.70" cy="385.70" rx="3.1" ry="3.1" fill="#ef157c"/>
<ellipse cx="58.70" cy="397.30" rx="3.1" ry="3.1" fill="#ef157c"/>
<line x1="47.70" y1="375.00" x2="69.70" y2="375.00" stroke="#ef157c" stroke-width="1.2"/>
<line x1="58.70" y1="368.40" x2="58.70" y2="381.30" stroke="#ef157c" stroke-width="1.2"/>
<line x1="53.10" y1="368.40" x2="64.30" y2="368.40" stroke="#ef157c" stroke-width="1.2"/>
<line x1="53.10" y1="381.30" x2="64.30" y2="381.30" stroke="#ef157c" stroke-width="1.2"/>
<rect x="88.85" y="316.45" width="5.3" height="5.3" fill="#0505ff"/>
<rect x="83.35" y="322.35" width="5.3" height="5.3" fill="#0505ff"/>
<rect x="88.85" y="327.85" width="5.3" height="5.3" fill="#0505ff"/>
<rect x="88.85" y="339.25" width="5.3" height="5.3" fill="#0505ff"/>
<rect x="88.85" y="355.85" width="5.3" height="5.3" fill="#0505ff"/>
<rect x="88.85" y="372.35" width="5.3" height="5.3" fill="#0505ff"/>
<line x1="80.50" y1="341.90" x2="102.50" y2="341.90" stroke="#0505ff" stroke-width="1.2"/>
<line x1="91.50" y1="333.10" x2="91.50" y2="350.20" stroke="#0505ff" stroke-width="1.2"/>
<line x1="85.90" y1="333.10" x2="97.10" y2="333.10" stroke="#0505ff" stroke-width="1.2"/>
<line x1="85.90" y1="350.20" x2="97.10" y2="350.20" stroke="#0505ff" stroke-width="1.2"/>
<line x1="141.90" y1="426.00" x2="141.90" y2="311.00" stroke="#2b2b2b" stroke-width="1.2"/>
<line x1="139.10" y1="425.40" x2="141.90" y2="425.40" stroke="#2b2b2b" stroke-width="1.2"/>
<text x="138.50" y="429.85" font-size="10.0" text-anchor="end" font-weight="normal" font-style="normal" fill="#111">0</text>
<line x1="139.10" y1="402.64" x2="141.90" y2="402.64" stroke="#2b2b2b" stroke-width="1.2"/>
<text x="138.50" y="407.09" font-size="10.0" text-anchor="end" font-weight="normal" font-style="normal" fill="#111">2</text>
<line x1="139.10" y1="379.88" x2="141.90" y2="379.88" stroke="#2b2b2b" stroke-width="1.2"/>
<text x="138.50" y="384.33" font-size="10.0" text-anchor="end" font-weight="normal" font-style="normal" fill="#111">4</text>
<line x1="139.10" y1="357.12" x2="141.90" y2="357.12" stroke="#2b2b2b" stroke-width="1.2"/>
<text x="138.50" y="361.57" font-size="10.0" text-anchor="end" font-weight="normal" font-style="normal" fill="#111">6</text>
<line x1="139.10" y1="334.36" x2="141.90" y2="334.36" stroke="#2b2b2b" stroke-width="1.2"/>
<text x="138.50" y="338.81" font-size="10.0" text-anchor="end" font-weight="normal" font-style="normal" fill="#111">8</text>
<line x1="139.10" y1="311.60" x2="141.90" y2="311.60" stroke="#2b2b2b" stroke-width="1.2"/>
<text x="138.50" y="316.05" font-size="10.0" text-anchor="end" font-weight="normal" font-style="normal" fill="#111">10</text>
<line x1="141.30" y1="425.40" x2="212.60" y2="425.40" stroke="#2b2b2b" stroke-width="1.2"/>
<line x1="159.90" y1="425.40" x2="159.90" y2="428.00" stroke="#2b2b2b" stroke-width="1.2"/>
<line x1="194.60" y1="425.40" x2="194.60" y2="428.00" stroke="#2b2b2b" stroke-width="1.2"/>
<text x="170.50" y="303.90" font-size="10.0" text-anchor="middle" font-weight="normal" font-style="normal" fill="#111">Brain</text>
<text x="162.70" y="325.70" font-size="7.6" fill="#111" text-anchor="start"><tspan font-style="italic">P</tspan> = 0.007</text>
<text x="125.00" y="368.00" font-size="10.0" text-anchor="middle" font-weight="normal" font-style="normal" fill="#111" transform="rotate(-90 125.00 368.00)" xml:space="preserve">HSV-1 titer (X10<tspan font-size="7" dy="-3.6">8</tspan><tspan dy="3.6"> PFU/g)</tspan></text>
<ellipse cx="160.10" cy="387.90" rx="3.1" ry="3.1" fill="#ef157c"/>
<ellipse cx="160.10" cy="394.40" rx="3.1" ry="3.1" fill="#ef157c"/>
<ellipse cx="151.30" cy="402.50" rx="3.1" ry="3.1" fill="#ef157c"/>
<ellipse cx="168.80" cy="403.60" rx="3.1" ry="3.1" fill="#ef157c"/>
<ellipse cx="160.10" cy="403.90" rx="3.1" ry="3.1" fill="#ef157c"/>
<ellipse cx="160.10" cy="415.30" rx="3.1" ry="3.1" fill="#ef157c"/>
<line x1="149.10" y1="401.50" x2="171.10" y2="401.50" stroke="#ef157c" stroke-width="1.2"/>
<line x1="160.10" y1="391.20" x2="160.10" y2="410.60" stroke="#ef157c" stroke-width="1.2"/>
<line x1="154.50" y1="391.20" x2="165.70" y2="391.20" stroke="#ef157c" stroke-width="1.2"/>
<line x1="154.50" y1="410.60" x2="165.70" y2="410.60" stroke="#ef157c" stroke-width="1.2"/>
<rect x="191.95" y="335.85" width="5.3" height="5.3" fill="#0505ff"/>
<rect x="186.35" y="353.35" width="5.3" height="5.3" fill="#0505ff"/>
<rect x="197.55" y="356.65" width="5.3" height="5.3" fill="#0505ff"/>
<rect x="186.35" y="365.55" width="5.3" height="5.3" fill="#0505ff"/>
<rect x="197.55" y="366.35" width="5.3" height="5.3" fill="#0505ff"/>
<rect x="191.95" y="404.65" width="5.3" height="5.3" fill="#0505ff"/>
<line x1="183.60" y1="366.30" x2="205.60" y2="366.30" stroke="#0505ff" stroke-width="1.2"/>
<line x1="194.60" y1="343.50" x2="194.60" y2="389.00" stroke="#0505ff" stroke-width="1.2"/>
<line x1="189.00" y1="343.50" x2="200.20" y2="343.50" stroke="#0505ff" stroke-width="1.2"/>
<line x1="189.00" y1="389.00" x2="200.20" y2="389.00" stroke="#0505ff" stroke-width="1.2"/>
<ellipse cx="216.20" cy="316.40" rx="4.1" ry="4.1" fill="#ef157c"/>
<rect x="212.20" y="327.50" width="8.0" height="8.0" fill="#0505ff"/>
<text x="224.60" y="320.00" font-size="10.0" text-anchor="start" font-weight="normal" font-style="normal" fill="#111">Cre-ER</text>
<text x="224.60" y="335.20" font-size="10.0" fill="#111" text-anchor="start">Cre-ER;<tspan font-style="italic">Arih1</tspan><tspan font-size="6.6" dy="-3.9" font-style="normal">fl/fl</tspan><tspan dy="3.9"></tspan></text>
<text x="304.50" y="302.00" font-size="14" text-anchor="start" font-weight="bold" font-style="normal" fill="#000">f</text>
<text x="381.80" y="307.50" font-size="10.0" text-anchor="middle" font-weight="normal" font-style="normal" fill="#111">Cre-ER</text>
<g clip-path="url(#cf1)">
<rect x="317.5" y="310.6" width="136" height="117.9" fill="#efa3d4"/>
<ellipse cx="441" cy="316" rx="14" ry="6" fill="#f6d0e8" opacity="0.8" filter="url(#bl2)"/>
<ellipse cx="330" cy="326" rx="5" ry="7" fill="#b892dc" opacity="0.7" filter="url(#bl2)"/>
<ellipse cx="409" cy="345" rx="8" ry="3.5" fill="#b48ed9" opacity="0.75" filter="url(#bl2)"/>
<ellipse cx="428" cy="341" rx="5" ry="2.5" fill="#b892dc" opacity="0.6" filter="url(#bl2)"/>
<ellipse cx="406" cy="409" rx="10" ry="3.8" fill="#b48ed9" opacity="0.75" filter="url(#bl2)"/>
<path d="M317.5 333 L321 336 L326 344 L331 351 L337 360 L342 369 L341 372 L336 373 L329 369 L324 360 L320 349 L317.5 340 Z" fill="#f07f8f" opacity="0.9" filter="url(#bl1)"/>
<path d="M317 342 L321 343 L326 362 L327 378 L324 394 L317 398 Z" fill="#f6d2ea" filter="url(#bl1)"/>
<path d="M319 312 L326 314 L333 330 L338 352 L345 366 L336 366 L326 345 L320 330 Z" fill="#f3c3e4" opacity="0.6" filter="url(#bl2)"/>
<path d="M317 365 L321 366 L322 392 L317 395 Z" fill="#ffffff"/>
<ellipse cx="437" cy="313" rx="10" ry="3" fill="#f07b95" opacity="0.6" filter="url(#bl2)"/>
<rect x="317.5" y="310.6" width="136" height="117.9" fill="#fff" filter="url(#tex)" opacity="0.5"/>
</g>
<rect x="317.5" y="310.6" width="136" height="117.9" fill="none" stroke="#222" stroke-width="1.1"/>
<polygon points="326.49,319.79 323.81,312.87 319.21,318.35" fill="#000"/>
<polygon points="409.39,336.59 406.71,329.67 402.11,335.15" fill="#000"/>
<polygon points="398.19,401.89 395.51,394.97 390.91,400.45" fill="#000"/>
<text x="440.30" y="421.80" font-size="8.0" text-anchor="middle" font-weight="normal" font-style="normal" fill="#000">200µm</text>
<line x1="431.10" y1="424.60" x2="447.70" y2="424.60" stroke="#000" stroke-width="1.1"/>
<text x="533.30" y="307.50" font-size="10.0" fill="#111" text-anchor="middle">Cre-ER;<tspan font-style="italic">Arih1</tspan><tspan font-size="6.6" dy="-3.9" font-style="normal">fl/fl</tspan><tspan dy="3.9"></tspan></text>
<g clip-path="url(#cf2)">
<rect x="465.5" y="310.6" width="136.2" height="118.4" fill="#efa3d4"/>
<ellipse cx="482" cy="318" rx="18" ry="9" fill="#c49ae0" opacity="0.35" filter="url(#bl3)"/>
<path d="M486 325 Q 510 334 536 331 Q 548 329 556 325" stroke="#bb96de" stroke-width="6" fill="none" opacity="0.4" filter="url(#bl2)"/>
<ellipse cx="518" cy="318" rx="13" ry="5" fill="#f1b0dd" opacity="0.6" filter="url(#bl2)"/>
<path d="M466 367 Q 478 360.5 492 359 Q 506 358.2 519 361" stroke="#f5c8e6" stroke-width="1" fill="none"/>
<path d="M541 411 Q 543 406 542 401" stroke="#f8e0f0" stroke-width="1" fill="none"/>
<ellipse cx="580" cy="345" rx="12" ry="18" fill="#c9a0e0" opacity="0.12" filter="url(#bl3)"/>
<rect x="465.5" y="310.6" width="136.2" height="118.4" fill="#fff" filter="url(#tex)" opacity="0.5"/>
</g>
<rect x="465.5" y="310.6" width="136.2" height="118.4" fill="none" stroke="#222" stroke-width="1"/>
<polygon points="517.69,325.29 515.01,318.37 510.41,323.85" fill="#000"/>
<text x="587.40" y="421.80" font-size="8.0" text-anchor="middle" font-weight="normal" font-style="normal" fill="#000">200µm</text>
<line x1="577.80" y1="424.60" x2="594.80" y2="424.60" stroke="#000" stroke-width="1.1"/>
<text x="0.00" y="451.30" font-size="14" text-anchor="start" font-weight="bold" font-style="normal" fill="#000">g</text>
<line x1="39.10" y1="552.20" x2="39.10" y2="454.70" stroke="#2b2b2b" stroke-width="1.2"/>
<line x1="36.30" y1="551.60" x2="39.10" y2="551.60" stroke="#2b2b2b" stroke-width="1.2"/>
<text x="35.70" y="556.05" font-size="10.0" text-anchor="end" font-weight="normal" font-style="normal" fill="#111">0</text>
<line x1="36.30" y1="532.34" x2="39.10" y2="532.34" stroke="#2b2b2b" stroke-width="1.2"/>
<text x="35.70" y="536.79" font-size="10.0" text-anchor="end" font-weight="normal" font-style="normal" fill="#111">20</text>
<line x1="36.30" y1="513.08" x2="39.10" y2="513.08" stroke="#2b2b2b" stroke-width="1.2"/>
<text x="35.70" y="517.53" font-size="10.0" text-anchor="end" font-weight="normal" font-style="normal" fill="#111">40</text>
<line x1="36.30" y1="493.82" x2="39.10" y2="493.82" stroke="#2b2b2b" stroke-width="1.2"/>
<text x="35.70" y="498.27" font-size="10.0" text-anchor="end" font-weight="normal" font-style="normal" fill="#111">60</text>
<line x1="36.30" y1="474.56" x2="39.10" y2="474.56" stroke="#2b2b2b" stroke-width="1.2"/>
<text x="35.70" y="479.01" font-size="10.0" text-anchor="end" font-weight="normal" font-style="normal" fill="#111">80</text>
<line x1="36.30" y1="455.30" x2="39.10" y2="455.30" stroke="#2b2b2b" stroke-width="1.2"/>
<text x="35.70" y="459.75" font-size="10.0" text-anchor="end" font-weight="normal" font-style="normal" fill="#111">100</text>
<line x1="38.50" y1="551.60" x2="178.80" y2="551.60" stroke="#2b2b2b" stroke-width="1.2"/>
<line x1="39.10" y1="551.60" x2="39.10" y2="554.20" stroke="#2b2b2b" stroke-width="1.2"/>
<text x="39.10" y="564.40" font-size="10.0" text-anchor="middle" font-weight="normal" font-style="normal" fill="#111">0</text>
<line x1="85.67" y1="551.60" x2="85.67" y2="554.20" stroke="#2b2b2b" stroke-width="1.2"/>
<text x="85.67" y="564.40" font-size="10.0" text-anchor="middle" font-weight="normal" font-style="normal" fill="#111">5</text>
<line x1="132.23" y1="551.60" x2="132.23" y2="554.20" stroke="#2b2b2b" stroke-width="1.2"/>
<text x="132.23" y="564.40" font-size="10.0" text-anchor="middle" font-weight="normal" font-style="normal" fill="#111">10</text>
<line x1="178.80" y1="551.60" x2="178.80" y2="554.20" stroke="#2b2b2b" stroke-width="1.2"/>
<text x="178.80" y="564.40" font-size="10.0" text-anchor="middle" font-weight="normal" font-style="normal" fill="#111">15</text>
<text x="0.00" y="564.40" font-size="10.0" text-anchor="start" font-weight="normal" font-style="normal" fill="#111">HSV-1:</text>
<text x="192.50" y="564.40" font-size="10.0" text-anchor="start" font-weight="normal" font-style="normal" fill="#111">Days</text>
<text x="18.50" y="503.50" font-size="10.0" text-anchor="middle" font-weight="normal" font-style="normal" fill="#111" transform="rotate(-90 18.50 503.50)" xml:space="preserve">Surviva (%)</text>
<polyline points="76.35,484.19 94.98,484.19 94.98,493.82 132.23,493.82" fill="none" stroke="#ef157c" stroke-width="1.2"/>
<polyline points="39.10,455.30 67.04,455.30 67.04,464.93 76.35,464.93 76.35,493.82 85.67,493.82 85.67,513.08 104.29,513.08 104.29,532.34 132.23,532.34 132.23,551.60" fill="none" stroke="#0505ff" stroke-width="1.2"/>
<text x="101.50" y="490.00" font-size="7.6" fill="#111" text-anchor="start"><tspan font-style="italic">P</tspan> = 0.021</text>
<line x1="112.00" y1="510.80" x2="121.50" y2="510.80" stroke="#ef157c" stroke-width="1.2"/>
<text x="124.10" y="514.40" font-size="10.0" fill="#111" text-anchor="start"><tspan font-style="italic">Arih1</tspan><tspan font-size="7.0" dy="-3.4" font-style="normal">fl/fl</tspan><tspan dy="3.4"> </tspan>(n=10)</text>
<line x1="112.00" y1="523.50" x2="121.50" y2="523.50" stroke="#0505ff" stroke-width="1.2"/>
<text x="124.10" y="527.20" font-size="10.0" fill="#111" text-anchor="start"><tspan font-style="italic">Lyz2</tspan>-Cre;<tspan font-style="italic">Arih1</tspan><tspan font-size="7.0" dy="-3.4" font-style="normal">fl/fl</tspan><tspan dy="3.4"> </tspan>(n=10)</text>
<text x="265.40" y="451.60" font-size="14" text-anchor="start" font-weight="bold" font-style="normal" fill="#000">h</text>
<line x1="305.90" y1="565.90" x2="305.90" y2="454.10" stroke="#2b2b2b" stroke-width="1.2"/>
<line x1="302.10" y1="565.30" x2="305.90" y2="565.30" stroke="#2b2b2b" stroke-width="1.2"/>
<text x="300.90" y="569.75" font-size="10.0" text-anchor="end" font-weight="normal" font-style="normal" fill="#111">0</text>
<line x1="302.10" y1="543.18" x2="305.90" y2="543.18" stroke="#2b2b2b" stroke-width="1.2"/>
<text x="300.90" y="547.63" font-size="10.0" text-anchor="end" font-weight="normal" font-style="normal" fill="#111">200</text>
<line x1="302.10" y1="521.06" x2="305.90" y2="521.06" stroke="#2b2b2b" stroke-width="1.2"/>
<text x="300.90" y="525.51" font-size="10.0" text-anchor="end" font-weight="normal" font-style="normal" fill="#111">400</text>
<line x1="302.10" y1="498.94" x2="305.90" y2="498.94" stroke="#2b2b2b" stroke-width="1.2"/>
<text x="300.90" y="503.39" font-size="10.0" text-anchor="end" font-weight="normal" font-style="normal" fill="#111">600</text>
<line x1="302.10" y1="476.82" x2="305.90" y2="476.82" stroke="#2b2b2b" stroke-width="1.2"/>
<text x="300.90" y="481.27" font-size="10.0" text-anchor="end" font-weight="normal" font-style="normal" fill="#111">800</text>
<line x1="302.10" y1="454.70" x2="305.90" y2="454.70" stroke="#2b2b2b" stroke-width="1.2"/>
<text x="300.90" y="459.15" font-size="10.0" text-anchor="end" font-weight="normal" font-style="normal" fill="#111">1000</text>
<line x1="305.30" y1="565.30" x2="370.10" y2="565.30" stroke="#2b2b2b" stroke-width="1.2"/>
<line x1="322.30" y1="565.30" x2="322.30" y2="567.90" stroke="#2b2b2b" stroke-width="1.2"/>
<line x1="354.70" y1="565.30" x2="354.70" y2="567.90" stroke="#2b2b2b" stroke-width="1.2"/>
<text x="340.00" y="457.40" font-size="10.0" text-anchor="middle" font-weight="normal" font-style="normal" fill="#111">IFN-β</text>
<text x="326.10" y="467.60" font-size="7.6" fill="#111" text-anchor="start"><tspan font-style="italic">P</tspan> = 0.02</text>
<text x="281.00" y="504.40" font-size="10.0" text-anchor="middle" font-weight="normal" font-style="normal" fill="#111" transform="rotate(-90 281.00 504.40)" xml:space="preserve">pg/ml</text>
<ellipse cx="314.50" cy="480.50" rx="3.0" ry="2.6" fill="#ef157c"/>
<ellipse cx="322.30" cy="486.60" rx="3.0" ry="2.6" fill="#ef157c"/>
<ellipse cx="329.80" cy="483.50" rx="3.0" ry="2.6" fill="#ef157c"/>
<ellipse cx="314.50" cy="501.90" rx="3.0" ry="2.6" fill="#ef157c"/>
<ellipse cx="322.30" cy="503.00" rx="3.0" ry="2.6" fill="#ef157c"/>
<ellipse cx="329.80" cy="495.80" rx="3.0" ry="2.6" fill="#ef157c"/>
<ellipse cx="322.30" cy="519.30" rx="3.0" ry="2.6" fill="#ef157c"/>
<line x1="311.30" y1="495.80" x2="333.30" y2="495.80" stroke="#ef157c" stroke-width="1.2"/>
<line x1="322.30" y1="490.70" x2="322.30" y2="501.30" stroke="#ef157c" stroke-width="1.2"/>
<line x1="316.70" y1="490.70" x2="327.90" y2="490.70" stroke="#ef157c" stroke-width="1.2"/>
<line x1="316.70" y1="501.30" x2="327.90" y2="501.30" stroke="#ef157c" stroke-width="1.2"/>
<rect x="352.10" y="498.60" width="5.2" height="4.6" fill="#0505ff"/>
<rect x="344.00" y="508.80" width="5.2" height="4.6" fill="#0505ff"/>
<rect x="352.10" y="510.30" width="5.2" height="4.6" fill="#0505ff"/>
<rect x="359.90" y="508.80" width="5.2" height="4.6" fill="#0505ff"/>
<rect x="352.10" y="520.50" width="5.2" height="4.6" fill="#0505ff"/>
<rect x="359.90" y="520.50" width="5.2" height="4.6" fill="#0505ff"/>
<line x1="343.70" y1="513.20" x2="365.70" y2="513.20" stroke="#0505ff" stroke-width="1.2"/>
<line x1="354.70" y1="510.50" x2="354.70" y2="516.60" stroke="#0505ff" stroke-width="1.2"/>
<line x1="349.10" y1="510.50" x2="360.30" y2="510.50" stroke="#0505ff" stroke-width="1.2"/>
<line x1="349.10" y1="516.60" x2="360.30" y2="516.60" stroke="#0505ff" stroke-width="1.2"/>
<line x1="408.40" y1="565.30" x2="408.40" y2="453.70" stroke="#2b2b2b" stroke-width="1.2"/>
<line x1="404.60" y1="564.70" x2="408.40" y2="564.70" stroke="#2b2b2b" stroke-width="1.2"/>
<text x="403.40" y="569.15" font-size="10.0" text-anchor="end" font-weight="normal" font-style="normal" fill="#111">0</text>
<line x1="404.60" y1="537.10" x2="408.40" y2="537.10" stroke="#2b2b2b" stroke-width="1.2"/>
<text x="403.40" y="541.55" font-size="10.0" text-anchor="end" font-weight="normal" font-style="normal" fill="#111">2000</text>
<line x1="404.60" y1="509.50" x2="408.40" y2="509.50" stroke="#2b2b2b" stroke-width="1.2"/>
<text x="403.40" y="513.95" font-size="10.0" text-anchor="end" font-weight="normal" font-style="normal" fill="#111">4000</text>
<line x1="404.60" y1="481.90" x2="408.40" y2="481.90" stroke="#2b2b2b" stroke-width="1.2"/>
<text x="403.40" y="486.35" font-size="10.0" text-anchor="end" font-weight="normal" font-style="normal" fill="#111">6000</text>
<line x1="404.60" y1="454.30" x2="408.40" y2="454.30" stroke="#2b2b2b" stroke-width="1.2"/>
<text x="403.40" y="458.75" font-size="10.0" text-anchor="end" font-weight="normal" font-style="normal" fill="#111">8000</text>
<line x1="407.80" y1="564.70" x2="473.20" y2="564.70" stroke="#2b2b2b" stroke-width="1.2"/>
<line x1="424.80" y1="564.70" x2="424.80" y2="567.30" stroke="#2b2b2b" stroke-width="1.2"/>
<line x1="457.50" y1="564.70" x2="457.50" y2="567.30" stroke="#2b2b2b" stroke-width="1.2"/>
<text x="443.00" y="457.40" font-size="10.0" text-anchor="middle" font-weight="normal" font-style="normal" fill="#111">IL-6</text>
<text x="427.80" y="467.60" font-size="7.6" fill="#111" text-anchor="start"><tspan font-style="italic">P</tspan> = 0.043</text>
<ellipse cx="424.80" cy="478.80" rx="3.0" ry="2.6" fill="#ef157c"/>
<ellipse cx="424.80" cy="492.70" rx="3.0" ry="2.6" fill="#ef157c"/>
<ellipse cx="417.00" cy="503.80" rx="3.0" ry="2.6" fill="#ef157c"/>
<ellipse cx="424.80" cy="503.80" rx="3.0" ry="2.6" fill="#ef157c"/>
<ellipse cx="417.00" cy="513.20" rx="3.0" ry="2.6" fill="#ef157c"/>
<ellipse cx="432.30" cy="513.20" rx="3.0" ry="2.6" fill="#ef157c"/>
<ellipse cx="424.80" cy="518.70" rx="3.0" ry="2.6" fill="#ef157c"/>
<line x1="413.80" y1="503.80" x2="435.80" y2="503.80" stroke="#ef157c" stroke-width="1.2"/>
<line x1="424.80" y1="498.70" x2="424.80" y2="509.10" stroke="#ef157c" stroke-width="1.2"/>
<line x1="419.20" y1="498.70" x2="430.40" y2="498.70" stroke="#ef157c" stroke-width="1.2"/>
<line x1="419.20" y1="509.10" x2="430.40" y2="509.10" stroke="#ef157c" stroke-width="1.2"/>
<rect x="454.90" y="504.70" width="5.2" height="4.6" fill="#0505ff"/>
<rect x="462.40" y="503.50" width="5.2" height="4.6" fill="#0505ff"/>
<rect x="454.90" y="517.00" width="5.2" height="4.6" fill="#0505ff"/>
<rect x="447.10" y="523.10" width="5.2" height="4.6" fill="#0505ff"/>
<rect x="454.90" y="529.70" width="5.2" height="4.6" fill="#0505ff"/>
<rect x="462.40" y="528.70" width="5.2" height="4.6" fill="#0505ff"/>
<line x1="446.50" y1="520.30" x2="468.50" y2="520.30" stroke="#0505ff" stroke-width="1.2"/>
<line x1="457.50" y1="515.60" x2="457.50" y2="524.40" stroke="#0505ff" stroke-width="1.2"/>
<line x1="451.90" y1="515.60" x2="463.10" y2="515.60" stroke="#0505ff" stroke-width="1.2"/>
<line x1="451.90" y1="524.40" x2="463.10" y2="524.40" stroke="#0505ff" stroke-width="1.2"/>
<ellipse cx="482.40" cy="455.90" rx="4.1" ry="4.1" fill="#ef157c"/>
<rect x="478.40" y="467.50" width="8.0" height="8.0" fill="#0505ff"/>
<text x="492.00" y="460.00" font-size="10.0" fill="#111" text-anchor="start"><tspan font-style="italic">Arih1</tspan><tspan font-size="6.6" dy="-3.9" font-style="normal">fl/fl</tspan><tspan dy="3.9"></tspan></text>
<text x="492.00" y="475.20" font-size="10.0" fill="#111" text-anchor="start"><tspan font-style="italic">Lyz2</tspan>-Cre;<tspan font-style="italic">Arih1</tspan><tspan font-size="6.6" dy="-3.9" font-style="normal">fl/fl</tspan><tspan dy="3.9"></tspan></text>
<text x="0.40" y="587.30" font-size="14" text-anchor="start" font-weight="bold" font-style="normal" fill="#000">i</text>
<line x1="33.90" y1="587.40" x2="269.30" y2="587.40" stroke="#2b2b2b" stroke-width="1.2"/>
<text x="152.00" y="585.00" font-size="10.0" text-anchor="middle" font-weight="normal" font-style="normal" fill="#111">Spleen</text>
<text x="17.50" y="651.00" font-size="10.0" text-anchor="middle" font-weight="normal" font-style="normal" fill="#111" transform="rotate(-90 17.50 651.00)" xml:space="preserve">Rel. mRNA  Level</text>
<line x1="39.00" y1="709.10" x2="39.00" y2="597.70" stroke="#2b2b2b" stroke-width="1.2"/>
<line x1="36.20" y1="708.50" x2="39.00" y2="708.50" stroke="#2b2b2b" stroke-width="1.2"/>
<text x="35.60" y="712.95" font-size="10.0" text-anchor="end" font-weight="normal" font-style="normal" fill="#111">0</text>
<line x1="36.20" y1="680.95" x2="39.00" y2="680.95" stroke="#2b2b2b" stroke-width="1.2"/>
<text x="35.60" y="685.40" font-size="10.0" text-anchor="end" font-weight="normal" font-style="normal" fill="#111">5</text>
<line x1="36.20" y1="653.40" x2="39.00" y2="653.40" stroke="#2b2b2b" stroke-width="1.2"/>
<text x="35.60" y="657.85" font-size="10.0" text-anchor="end" font-weight="normal" font-style="normal" fill="#111">10</text>
<line x1="36.20" y1="625.85" x2="39.00" y2="625.85" stroke="#2b2b2b" stroke-width="1.2"/>
<text x="35.60" y="630.30" font-size="10.0" text-anchor="end" font-weight="normal" font-style="normal" fill="#111">15</text>
<line x1="36.20" y1="598.30" x2="39.00" y2="598.30" stroke="#2b2b2b" stroke-width="1.2"/>
<text x="35.60" y="602.75" font-size="10.0" text-anchor="end" font-weight="normal" font-style="normal" fill="#111">20</text>
<line x1="38.40" y1="708.50" x2="104.70" y2="708.50" stroke="#2b2b2b" stroke-width="1.2"/>
<line x1="55.80" y1="708.50" x2="55.80" y2="711.10" stroke="#2b2b2b" stroke-width="1.2"/>
<line x1="88.70" y1="708.50" x2="88.70" y2="711.10" stroke="#2b2b2b" stroke-width="1.2"/>
<text x="74.40" y="600.00" font-size="10.0" text-anchor="middle" font-weight="normal" font-style="italic" fill="#111">Ifnb</text>
<text x="59.10" y="611.00" font-size="7.6" fill="#111" text-anchor="start"><tspan font-style="italic">P</tspan> = 0.007</text>
<ellipse cx="55.80" cy="622.40" rx="2.6" ry="2.9" fill="#ef157c"/>
<ellipse cx="55.80" cy="630.70" rx="2.6" ry="2.9" fill="#ef157c"/>
<ellipse cx="55.80" cy="649.30" rx="2.6" ry="2.9" fill="#ef157c"/>
<ellipse cx="61.70" cy="660.20" rx="2.6" ry="2.9" fill="#ef157c"/>
<ellipse cx="55.80" cy="665.70" rx="2.6" ry="2.9" fill="#ef157c"/>
<line x1="44.80" y1="646.00" x2="66.80" y2="646.00" stroke="#ef157c" stroke-width="1.2"/>
<line x1="55.80" y1="637.30" x2="55.80" y2="654.30" stroke="#ef157c" stroke-width="1.2"/>
<line x1="50.20" y1="637.30" x2="61.40" y2="637.30" stroke="#ef157c" stroke-width="1.2"/>
<line x1="50.20" y1="654.30" x2="61.40" y2="654.30" stroke="#ef157c" stroke-width="1.2"/>
<rect x="86.00" y="656.60" width="5.4" height="5.4" fill="#0505ff"/>
<rect x="86.00" y="682.20" width="5.4" height="5.4" fill="#0505ff"/>
<rect x="80.10" y="690.50" width="5.4" height="5.4" fill="#0505ff"/>
<rect x="91.90" y="691.40" width="5.4" height="5.4" fill="#0505ff"/>
<rect x="86.00" y="696.40" width="5.4" height="5.4" fill="#0505ff"/>
<line x1="77.70" y1="686.40" x2="99.70" y2="686.40" stroke="#0505ff" stroke-width="1.2"/>
<line x1="88.70" y1="679.00" x2="88.70" y2="692.60" stroke="#0505ff" stroke-width="1.2"/>
<line x1="83.10" y1="679.00" x2="94.30" y2="679.00" stroke="#0505ff" stroke-width="1.2"/>
<line x1="83.10" y1="692.60" x2="94.30" y2="692.60" stroke="#0505ff" stroke-width="1.2"/>
<line x1="124.20" y1="709.10" x2="124.20" y2="597.70" stroke="#2b2b2b" stroke-width="1.2"/>
<line x1="121.40" y1="708.50" x2="124.20" y2="708.50" stroke="#2b2b2b" stroke-width="1.2"/>
<text x="120.80" y="712.95" font-size="10.0" text-anchor="end" font-weight="normal" font-style="normal" fill="#111">0</text>
<line x1="121.40" y1="680.95" x2="124.20" y2="680.95" stroke="#2b2b2b" stroke-width="1.2"/>
<text x="120.80" y="685.40" font-size="10.0" text-anchor="end" font-weight="normal" font-style="normal" fill="#111">100</text>
<line x1="121.40" y1="653.40" x2="124.20" y2="653.40" stroke="#2b2b2b" stroke-width="1.2"/>
<text x="120.80" y="657.85" font-size="10.0" text-anchor="end" font-weight="normal" font-style="normal" fill="#111">200</text>
<line x1="121.40" y1="625.85" x2="124.20" y2="625.85" stroke="#2b2b2b" stroke-width="1.2"/>
<text x="120.80" y="630.30" font-size="10.0" text-anchor="end" font-weight="normal" font-style="normal" fill="#111">300</text>
<line x1="121.40" y1="598.30" x2="124.20" y2="598.30" stroke="#2b2b2b" stroke-width="1.2"/>
<text x="120.80" y="602.75" font-size="10.0" text-anchor="end" font-weight="normal" font-style="normal" fill="#111">400</text>
<line x1="123.60" y1="708.50" x2="189.00" y2="708.50" stroke="#2b2b2b" stroke-width="1.2"/>
<line x1="140.30" y1="708.50" x2="140.30" y2="711.10" stroke="#2b2b2b" stroke-width="1.2"/>
<line x1="173.90" y1="708.50" x2="173.90" y2="711.10" stroke="#2b2b2b" stroke-width="1.2"/>
<text x="157.80" y="599.20" font-size="10.0" text-anchor="middle" font-weight="normal" font-style="italic" fill="#111">Ccl5</text>
<text x="143.20" y="610.00" font-size="7.6" fill="#111" text-anchor="start"><tspan font-style="italic">P</tspan> = 0.043</text>
<ellipse cx="140.30" cy="614.70" rx="2.6" ry="2.9" fill="#ef157c"/>
<ellipse cx="140.30" cy="626.30" rx="2.6" ry="2.9" fill="#ef157c"/>
<ellipse cx="140.30" cy="637.30" rx="2.6" ry="2.9" fill="#ef157c"/>
<ellipse cx="140.30" cy="646.00" rx="2.6" ry="2.9" fill="#ef157c"/>
<ellipse cx="140.30" cy="664.00" rx="2.6" ry="2.9" fill="#ef157c"/>
<line x1="129.30" y1="637.70" x2="151.30" y2="637.70" stroke="#ef157c" stroke-width="1.2"/>
<line x1="140.30" y1="629.20" x2="140.30" y2="646.00" stroke="#ef157c" stroke-width="1.2"/>
<line x1="134.70" y1="629.20" x2="145.90" y2="629.20" stroke="#ef157c" stroke-width="1.2"/>
<line x1="134.70" y1="646.00" x2="145.90" y2="646.00" stroke="#ef157c" stroke-width="1.2"/>
<rect x="171.20" y="638.30" width="5.4" height="5.4" fill="#0505ff"/>
<rect x="166.30" y="660.00" width="5.4" height="5.4" fill="#0505ff"/>
<rect x="171.20" y="660.70" width="5.4" height="5.4" fill="#0505ff"/>
<rect x="171.20" y="668.60" width="5.4" height="5.4" fill="#0505ff"/>
<rect x="175.90" y="666.90" width="5.4" height="5.4" fill="#0505ff"/>
<line x1="162.90" y1="662.00" x2="184.90" y2="662.00" stroke="#0505ff" stroke-width="1.2"/>
<line x1="173.90" y1="656.70" x2="173.90" y2="667.20" stroke="#0505ff" stroke-width="1.2"/>
<line x1="168.30" y1="656.70" x2="179.50" y2="656.70" stroke="#0505ff" stroke-width="1.2"/>
<line x1="168.30" y1="667.20" x2="179.50" y2="667.20" stroke="#0505ff" stroke-width="1.2"/>
<line x1="208.00" y1="709.30" x2="208.00" y2="597.70" stroke="#2b2b2b" stroke-width="1.2"/>
<line x1="205.20" y1="708.70" x2="208.00" y2="708.70" stroke="#2b2b2b" stroke-width="1.2"/>
<text x="204.60" y="713.15" font-size="10.0" text-anchor="end" font-weight="normal" font-style="normal" fill="#111">0</text>
<line x1="205.20" y1="681.10" x2="208.00" y2="681.10" stroke="#2b2b2b" stroke-width="1.2"/>
<text x="204.60" y="685.55" font-size="10.0" text-anchor="end" font-weight="normal" font-style="normal" fill="#111">2</text>
<line x1="205.20" y1="653.50" x2="208.00" y2="653.50" stroke="#2b2b2b" stroke-width="1.2"/>
<text x="204.60" y="657.95" font-size="10.0" text-anchor="end" font-weight="normal" font-style="normal" fill="#111">4</text>
<line x1="205.20" y1="625.90" x2="208.00" y2="625.90" stroke="#2b2b2b" stroke-width="1.2"/>
<text x="204.60" y="630.35" font-size="10.0" text-anchor="end" font-weight="normal" font-style="normal" fill="#111">6</text>
<line x1="205.20" y1="598.30" x2="208.00" y2="598.30" stroke="#2b2b2b" stroke-width="1.2"/>
<text x="204.60" y="602.75" font-size="10.0" text-anchor="end" font-weight="normal" font-style="normal" fill="#111">8</text>
<line x1="207.40" y1="708.70" x2="273.10" y2="708.70" stroke="#2b2b2b" stroke-width="1.2"/>
<line x1="224.70" y1="708.70" x2="224.70" y2="711.30" stroke="#2b2b2b" stroke-width="1.2"/>
<line x1="257.10" y1="708.70" x2="257.10" y2="711.30" stroke="#2b2b2b" stroke-width="1.2"/>
<text x="238.70" y="599.20" font-size="10.0" text-anchor="middle" font-weight="normal" font-style="italic" fill="#111">UL30</text>
<text x="218.80" y="610.00" font-size="7.6" fill="#111" text-anchor="start"><tspan font-style="italic">P</tspan> = 0.005</text>
<ellipse cx="224.70" cy="666.40" rx="2.6" ry="2.9" fill="#ef157c"/>
<ellipse cx="217.40" cy="677.40" rx="2.6" ry="2.9" fill="#ef157c"/>
<ellipse cx="224.70" cy="679.50" rx="2.6" ry="2.9" fill="#ef157c"/>
<ellipse cx="230.80" cy="684.70" rx="2.6" ry="2.9" fill="#ef157c"/>
<ellipse cx="224.70" cy="687.70" rx="2.6" ry="2.9" fill="#ef157c"/>
<line x1="213.70" y1="679.50" x2="235.70" y2="679.50" stroke="#ef157c" stroke-width="1.2"/>
<line x1="224.70" y1="675.70" x2="224.70" y2="682.40" stroke="#ef157c" stroke-width="1.2"/>
<line x1="219.10" y1="675.70" x2="230.30" y2="675.70" stroke="#ef157c" stroke-width="1.2"/>
<line x1="219.10" y1="682.40" x2="230.30" y2="682.40" stroke="#ef157c" stroke-width="1.2"/>
<rect x="254.40" y="601.50" width="5.4" height="5.4" fill="#0505ff"/>
<rect x="254.40" y="635.90" width="5.4" height="5.4" fill="#0505ff"/>
<rect x="260.80" y="634.50" width="5.4" height="5.4" fill="#0505ff"/>
<rect x="254.40" y="648.20" width="5.4" height="5.4" fill="#0505ff"/>
<rect x="254.40" y="660.70" width="5.4" height="5.4" fill="#0505ff"/>
<line x1="246.10" y1="638.60" x2="268.10" y2="638.60" stroke="#0505ff" stroke-width="1.2"/>
<line x1="257.10" y1="629.00" x2="257.10" y2="648.20" stroke="#0505ff" stroke-width="1.2"/>
<line x1="251.50" y1="629.00" x2="262.70" y2="629.00" stroke="#0505ff" stroke-width="1.2"/>
<line x1="251.50" y1="648.20" x2="262.70" y2="648.20" stroke="#0505ff" stroke-width="1.2"/>
<ellipse cx="274.60" cy="603.00" rx="4.1" ry="4.1" fill="#ef157c"/>
<rect x="270.60" y="615.80" width="8.0" height="8.0" fill="#0505ff"/>
<text x="284.00" y="606.50" font-size="10.0" fill="#111" text-anchor="start"><tspan font-style="italic">Arih1</tspan><tspan font-size="6.6" dy="-3.9" font-style="normal">fl/fl</tspan><tspan dy="3.9"></tspan></text>
<text x="284.00" y="623.50" font-size="10.0" fill="#111" text-anchor="start"><tspan font-style="italic">Lyz2</tspan>-Cre</text>
<text x="284.00" y="635.40" font-size="10.0" fill="#111" text-anchor="start"><tspan font-style="italic">Arih1</tspan><tspan font-size="6.6" dy="-3.9" font-style="normal">fl/fl</tspan><tspan dy="3.9"></tspan></text>
<text x="335.30" y="587.50" font-size="14" text-anchor="start" font-weight="bold" font-style="normal" fill="#000">j</text>
<line x1="359.30" y1="588.00" x2="606.80" y2="588.00" stroke="#2b2b2b" stroke-width="1.2"/>
<text x="491.40" y="585.10" font-size="10.0" text-anchor="middle" font-weight="normal" font-style="normal" fill="#111">Brain</text>
<text x="340.50" y="650.30" font-size="10.0" text-anchor="middle" font-weight="normal" font-style="normal" fill="#111" transform="rotate(-90 340.50 650.30)" xml:space="preserve">Rel. mRNA  Level</text>
<line x1="362.20" y1="708.40" x2="362.20" y2="595.10" stroke="#2b2b2b" stroke-width="1.2"/>
<line x1="359.40" y1="707.80" x2="362.20" y2="707.80" stroke="#2b2b2b" stroke-width="1.2"/>
<text x="0" y="0" transform="translate(358.80 712.25) scale(0.93 1)" font-size="10.0" text-anchor="end" font-weight="normal" font-style="normal" fill="#111">0</text>
<line x1="359.40" y1="679.77" x2="362.20" y2="679.77" stroke="#2b2b2b" stroke-width="1.2"/>
<text x="0" y="0" transform="translate(358.80 684.22) scale(0.93 1)" font-size="10.0" text-anchor="end" font-weight="normal" font-style="normal" fill="#111">100</text>
<line x1="359.40" y1="651.75" x2="362.20" y2="651.75" stroke="#2b2b2b" stroke-width="1.2"/>
<text x="0" y="0" transform="translate(358.80 656.20) scale(0.93 1)" font-size="10.0" text-anchor="end" font-weight="normal" font-style="normal" fill="#111">200</text>
<line x1="359.40" y1="623.73" x2="362.20" y2="623.73" stroke="#2b2b2b" stroke-width="1.2"/>
<text x="0" y="0" transform="translate(358.80 628.17) scale(0.93 1)" font-size="10.0" text-anchor="end" font-weight="normal" font-style="normal" fill="#111">300</text>
<line x1="359.40" y1="595.70" x2="362.20" y2="595.70" stroke="#2b2b2b" stroke-width="1.2"/>
<text x="0" y="0" transform="translate(358.80 600.15) scale(0.93 1)" font-size="10.0" text-anchor="end" font-weight="normal" font-style="normal" fill="#111">400</text>
<line x1="361.60" y1="707.80" x2="431.70" y2="707.80" stroke="#2b2b2b" stroke-width="1.2"/>
<line x1="380.30" y1="707.80" x2="380.30" y2="710.40" stroke="#2b2b2b" stroke-width="1.2"/>
<line x1="414.20" y1="707.80" x2="414.20" y2="710.40" stroke="#2b2b2b" stroke-width="1.2"/>
<text x="399.60" y="600.20" font-size="10.0" text-anchor="middle" font-weight="normal" font-style="italic" fill="#111">Ifnb</text>
<text x="386.10" y="611.50" font-size="7.6" fill="#111" text-anchor="start"><tspan font-style="italic">P</tspan> = 0.009</text>
<ellipse cx="380.30" cy="608.00" rx="3.0" ry="3.0" fill="#ef157c"/>
<ellipse cx="380.30" cy="655.50" rx="3.0" ry="3.0" fill="#ef157c"/>
<ellipse cx="380.30" cy="661.40" rx="3.0" ry="3.0" fill="#ef157c"/>
<ellipse cx="374.50" cy="674.50" rx="3.0" ry="3.0" fill="#ef157c"/>
<ellipse cx="385.50" cy="670.70" rx="3.0" ry="3.0" fill="#ef157c"/>
<line x1="369.30" y1="654.10" x2="391.30" y2="654.10" stroke="#ef157c" stroke-width="1.2"/>
<line x1="380.30" y1="627.50" x2="380.30" y2="681.00" stroke="#ef157c" stroke-width="1.2"/>
<line x1="374.70" y1="627.50" x2="385.90" y2="627.50" stroke="#ef157c" stroke-width="1.2"/>
<line x1="374.70" y1="681.00" x2="385.90" y2="681.00" stroke="#ef157c" stroke-width="1.2"/>
<rect x="411.20" y="680.40" width="6.0" height="6.0" fill="#0505ff"/>
<rect x="406.40" y="696.40" width="6.0" height="6.0" fill="#0505ff"/>
<rect x="416.90" y="691.80" width="6.0" height="6.0" fill="#0505ff"/>
<rect x="406.40" y="701.20" width="6.0" height="6.0" fill="#0505ff"/>
<rect x="416.90" y="700.80" width="6.0" height="6.0" fill="#0505ff"/>
<line x1="403.20" y1="697.30" x2="425.20" y2="697.30" stroke="#0505ff" stroke-width="1.2"/>
<line x1="414.20" y1="688.80" x2="414.20" y2="704.90" stroke="#0505ff" stroke-width="1.2"/>
<line x1="408.60" y1="688.80" x2="419.80" y2="688.80" stroke="#0505ff" stroke-width="1.2"/>
<line x1="408.60" y1="704.90" x2="419.80" y2="704.90" stroke="#0505ff" stroke-width="1.2"/>
<line x1="458.20" y1="708.50" x2="458.20" y2="594.40" stroke="#2b2b2b" stroke-width="1.2"/>
<line x1="455.40" y1="707.90" x2="458.20" y2="707.90" stroke="#2b2b2b" stroke-width="1.2"/>
<text x="0" y="0" transform="translate(454.80 712.35) scale(0.93 1)" font-size="10.0" text-anchor="end" font-weight="normal" font-style="normal" fill="#111">0</text>
<line x1="455.40" y1="685.32" x2="458.20" y2="685.32" stroke="#2b2b2b" stroke-width="1.2"/>
<text x="0" y="0" transform="translate(454.80 689.77) scale(0.93 1)" font-size="10.0" text-anchor="end" font-weight="normal" font-style="normal" fill="#111">200</text>
<line x1="455.40" y1="662.74" x2="458.20" y2="662.74" stroke="#2b2b2b" stroke-width="1.2"/>
<text x="0" y="0" transform="translate(454.80 667.19) scale(0.93 1)" font-size="10.0" text-anchor="end" font-weight="normal" font-style="normal" fill="#111">400</text>
<line x1="455.40" y1="640.16" x2="458.20" y2="640.16" stroke="#2b2b2b" stroke-width="1.2"/>
<text x="0" y="0" transform="translate(454.80 644.61) scale(0.93 1)" font-size="10.0" text-anchor="end" font-weight="normal" font-style="normal" fill="#111">600</text>
<line x1="455.40" y1="617.58" x2="458.20" y2="617.58" stroke="#2b2b2b" stroke-width="1.2"/>
<text x="0" y="0" transform="translate(454.80 622.03) scale(0.93 1)" font-size="10.0" text-anchor="end" font-weight="normal" font-style="normal" fill="#111">800</text>
<line x1="455.40" y1="595.00" x2="458.20" y2="595.00" stroke="#2b2b2b" stroke-width="1.2"/>
<text x="0" y="0" transform="translate(454.80 599.45) scale(0.93 1)" font-size="10.0" text-anchor="end" font-weight="normal" font-style="normal" fill="#111">1000</text>
<line x1="457.60" y1="707.90" x2="527.50" y2="707.90" stroke="#2b2b2b" stroke-width="1.2"/>
<line x1="475.80" y1="707.90" x2="475.80" y2="710.50" stroke="#2b2b2b" stroke-width="1.2"/>
<line x1="510.00" y1="707.90" x2="510.00" y2="710.50" stroke="#2b2b2b" stroke-width="1.2"/>
<text x="495.20" y="600.20" font-size="10.0" text-anchor="middle" font-weight="normal" font-style="italic" fill="#111">Ccl5</text>
<text x="478.40" y="611.50" font-size="7.6" fill="#111" text-anchor="start"><tspan font-style="italic">P</tspan> = 0.006</text>
<ellipse cx="475.80" cy="617.30" rx="3.0" ry="3.0" fill="#ef157c"/>
<ellipse cx="475.80" cy="650.00" rx="3.0" ry="3.0" fill="#ef157c"/>
<ellipse cx="470.20" cy="665.00" rx="3.0" ry="3.0" fill="#ef157c"/>
<ellipse cx="481.00" cy="667.90" rx="3.0" ry="3.0" fill="#ef157c"/>
<ellipse cx="475.80" cy="677.20" rx="3.0" ry="3.0" fill="#ef157c"/>
<line x1="464.80" y1="655.60" x2="486.80" y2="655.60" stroke="#ef157c" stroke-width="1.2"/>
<line x1="475.80" y1="632.20" x2="475.80" y2="679.10" stroke="#ef157c" stroke-width="1.2"/>
<line x1="470.20" y1="632.20" x2="481.40" y2="632.20" stroke="#ef157c" stroke-width="1.2"/>
<line x1="470.20" y1="679.10" x2="481.40" y2="679.10" stroke="#ef157c" stroke-width="1.2"/>
<rect x="507.00" y="686.90" width="6.0" height="6.0" fill="#0505ff"/>
<rect x="498.90" y="688.70" width="6.0" height="6.0" fill="#0505ff"/>
<rect x="515.60" y="691.00" width="6.0" height="6.0" fill="#0505ff"/>
<rect x="503.30" y="698.00" width="6.0" height="6.0" fill="#0505ff"/>
<rect x="511.50" y="697.00" width="6.0" height="6.0" fill="#0505ff"/>
<line x1="499.00" y1="694.00" x2="521.00" y2="694.00" stroke="#0505ff" stroke-width="1.2"/>
<line x1="510.00" y1="691.00" x2="510.00" y2="696.60" stroke="#0505ff" stroke-width="1.2"/>
<line x1="504.40" y1="691.00" x2="515.60" y2="691.00" stroke="#0505ff" stroke-width="1.2"/>
<line x1="504.40" y1="696.60" x2="515.60" y2="696.60" stroke="#0505ff" stroke-width="1.2"/>
<line x1="551.00" y1="709.10" x2="551.00" y2="594.70" stroke="#2b2b2b" stroke-width="1.2"/>
<line x1="548.20" y1="708.50" x2="551.00" y2="708.50" stroke="#2b2b2b" stroke-width="1.2"/>
<text x="0" y="0" transform="translate(547.60 712.95) scale(0.93 1)" font-size="10.0" text-anchor="end" font-weight="normal" font-style="normal" fill="#111">0</text>
<line x1="548.20" y1="680.20" x2="551.00" y2="680.20" stroke="#2b2b2b" stroke-width="1.2"/>
<text x="0" y="0" transform="translate(547.60 684.65) scale(0.93 1)" font-size="10.0" text-anchor="end" font-weight="normal" font-style="normal" fill="#111">500</text>
<line x1="548.20" y1="651.90" x2="551.00" y2="651.90" stroke="#2b2b2b" stroke-width="1.2"/>
<text x="0" y="0" transform="translate(547.60 656.35) scale(0.93 1)" font-size="10.0" text-anchor="end" font-weight="normal" font-style="normal" fill="#111">1000</text>
<line x1="548.20" y1="623.60" x2="551.00" y2="623.60" stroke="#2b2b2b" stroke-width="1.2"/>
<text x="0" y="0" transform="translate(547.60 628.05) scale(0.93 1)" font-size="10.0" text-anchor="end" font-weight="normal" font-style="normal" fill="#111">1500</text>
<line x1="548.20" y1="595.30" x2="551.00" y2="595.30" stroke="#2b2b2b" stroke-width="1.2"/>
<text x="0" y="0" transform="translate(547.60 599.75) scale(0.93 1)" font-size="10.0" text-anchor="end" font-weight="normal" font-style="normal" fill="#111">2000</text>
<line x1="550.40" y1="708.50" x2="622.90" y2="708.50" stroke="#2b2b2b" stroke-width="1.2"/>
<line x1="570.70" y1="708.50" x2="570.70" y2="711.10" stroke="#2b2b2b" stroke-width="1.2"/>
<line x1="605.00" y1="708.50" x2="605.00" y2="711.10" stroke="#2b2b2b" stroke-width="1.2"/>
<text x="586.40" y="600.20" font-size="10.0" text-anchor="middle" font-weight="normal" font-style="italic" fill="#111">UL30</text>
<text x="563.30" y="611.50" font-size="7.6" fill="#111" text-anchor="start"><tspan font-style="italic">P</tspan> = 0.0008</text>
<ellipse cx="561.40" cy="678.70" rx="3.0" ry="3.0" fill="#ef157c"/>
<ellipse cx="570.70" cy="681.70" rx="3.0" ry="3.0" fill="#ef157c"/>
<ellipse cx="579.70" cy="681.70" rx="3.0" ry="3.0" fill="#ef157c"/>
<ellipse cx="570.70" cy="689.10" rx="3.0" ry="3.0" fill="#ef157c"/>
<ellipse cx="570.70" cy="698.40" rx="3.0" ry="3.0" fill="#ef157c"/>
<line x1="559.70" y1="686.20" x2="581.70" y2="686.20" stroke="#ef157c" stroke-width="1.2"/>
<line x1="570.70" y1="678.70" x2="570.70" y2="694.00" stroke="#ef157c" stroke-width="1.2"/>
<line x1="565.10" y1="678.70" x2="576.30" y2="678.70" stroke="#ef157c" stroke-width="1.2"/>
<line x1="565.10" y1="694.00" x2="576.30" y2="694.00" stroke="#ef157c" stroke-width="1.2"/>
<rect x="602.00" y="603.10" width="6.0" height="6.0" fill="#0505ff"/>
<rect x="593.40" y="631.00" width="6.0" height="6.0" fill="#0505ff"/>
<rect x="602.00" y="632.20" width="6.0" height="6.0" fill="#0505ff"/>
<rect x="610.50" y="631.00" width="6.0" height="6.0" fill="#0505ff"/>
<rect x="602.00" y="661.90" width="6.0" height="6.0" fill="#0505ff"/>
<line x1="594.00" y1="634.40" x2="616.00" y2="634.40" stroke="#0505ff" stroke-width="1.2"/>
<line x1="605.00" y1="614.70" x2="605.00" y2="655.60" stroke="#0505ff" stroke-width="1.2"/>
<line x1="599.40" y1="614.70" x2="610.60" y2="614.70" stroke="#0505ff" stroke-width="1.2"/>
<line x1="599.40" y1="655.60" x2="610.60" y2="655.60" stroke="#0505ff" stroke-width="1.2"/>
<ellipse cx="635.80" cy="600.30" rx="4.1" ry="4.1" fill="#ef157c"/>
<rect x="631.80" y="613.10" width="8.0" height="8.0" fill="#0505ff"/>
<text x="645.20" y="604.30" font-size="10.0" fill="#111" text-anchor="start"><tspan font-style="italic">Arih1</tspan><tspan font-size="6.6" dy="-3.9" font-style="normal">fl/fl</tspan><tspan dy="3.9"></tspan></text>
<text x="645.20" y="621.00" font-size="10.0" fill="#111" text-anchor="start"><tspan font-style="italic">Lyz2</tspan>-Cre</text>
<text x="645.20" y="632.90" font-size="10.0" fill="#111" text-anchor="start"><tspan font-style="italic">Arih1</tspan><tspan font-size="6.6" dy="-3.9" font-style="normal">fl/fl</tspan><tspan dy="3.9"></tspan></text>
<text x="1.00" y="730.80" font-size="14" text-anchor="start" font-weight="bold" font-style="normal" fill="#000">k</text>
<line x1="39.90" y1="848.10" x2="39.90" y2="736.80" stroke="#2b2b2b" stroke-width="1.2"/>
<line x1="37.10" y1="847.50" x2="39.90" y2="847.50" stroke="#2b2b2b" stroke-width="1.2"/>
<text x="36.50" y="851.95" font-size="10.0" text-anchor="end" font-weight="normal" font-style="normal" fill="#111">0</text>
<line x1="37.10" y1="825.48" x2="39.90" y2="825.48" stroke="#2b2b2b" stroke-width="1.2"/>
<text x="36.50" y="829.93" font-size="10.0" text-anchor="end" font-weight="normal" font-style="normal" fill="#111">5</text>
<line x1="37.10" y1="803.46" x2="39.90" y2="803.46" stroke="#2b2b2b" stroke-width="1.2"/>
<text x="36.50" y="807.91" font-size="10.0" text-anchor="end" font-weight="normal" font-style="normal" fill="#111">10</text>
<line x1="37.10" y1="781.44" x2="39.90" y2="781.44" stroke="#2b2b2b" stroke-width="1.2"/>
<text x="36.50" y="785.89" font-size="10.0" text-anchor="end" font-weight="normal" font-style="normal" fill="#111">15</text>
<line x1="37.10" y1="759.42" x2="39.90" y2="759.42" stroke="#2b2b2b" stroke-width="1.2"/>
<text x="36.50" y="763.87" font-size="10.0" text-anchor="end" font-weight="normal" font-style="normal" fill="#111">20</text>
<line x1="37.10" y1="737.40" x2="39.90" y2="737.40" stroke="#2b2b2b" stroke-width="1.2"/>
<text x="36.50" y="741.85" font-size="10.0" text-anchor="end" font-weight="normal" font-style="normal" fill="#111">25</text>
<line x1="39.30" y1="847.50" x2="105.50" y2="847.50" stroke="#2b2b2b" stroke-width="1.2"/>
<line x1="56.50" y1="847.50" x2="56.50" y2="850.10" stroke="#2b2b2b" stroke-width="1.2"/>
<line x1="89.30" y1="847.50" x2="89.30" y2="850.10" stroke="#2b2b2b" stroke-width="1.2"/>
<text x="72.90" y="734.60" font-size="10.0" text-anchor="middle" font-weight="normal" font-style="normal" fill="#111">Spleen</text>
<text x="55.80" y="747.10" font-size="7.6" fill="#111" text-anchor="start"><tspan font-style="italic">P</tspan> = 0.0004</text>
<text x="22.00" y="790.50" font-size="10.0" text-anchor="middle" font-weight="normal" font-style="normal" fill="#111" transform="rotate(-90 22.00 790.50)" xml:space="preserve">HSV-1 titer (X10<tspan font-size="7" dy="-3.6">3</tspan><tspan dy="3.6"> PFU/g)</tspan></text>
<ellipse cx="62.00" cy="803.70" rx="2.7" ry="2.7" fill="#ef157c"/>
<ellipse cx="51.00" cy="809.00" rx="2.7" ry="2.7" fill="#ef157c"/>
<ellipse cx="56.50" cy="809.00" rx="2.7" ry="2.7" fill="#ef157c"/>
<ellipse cx="56.50" cy="819.50" rx="2.7" ry="2.7" fill="#ef157c"/>
<ellipse cx="62.00" cy="819.50" rx="2.7" ry="2.7" fill="#ef157c"/>
<line x1="45.50" y1="812.30" x2="67.50" y2="812.30" stroke="#ef157c" stroke-width="1.2"/>
<line x1="56.50" y1="809.60" x2="56.50" y2="815.10" stroke="#ef157c" stroke-width="1.2"/>
<line x1="50.90" y1="809.60" x2="62.10" y2="809.60" stroke="#ef157c" stroke-width="1.2"/>
<line x1="50.90" y1="815.10" x2="62.10" y2="815.10" stroke="#ef157c" stroke-width="1.2"/>
<rect x="92.30" y="757.20" width="5.0" height="5.0" fill="#0505ff"/>
<rect x="86.80" y="762.20" width="5.0" height="5.0" fill="#0505ff"/>
<rect x="81.40" y="773.20" width="5.0" height="5.0" fill="#0505ff"/>
<rect x="86.80" y="773.80" width="5.0" height="5.0" fill="#0505ff"/>
<rect x="86.80" y="790.00" width="5.0" height="5.0" fill="#0505ff"/>
<line x1="78.30" y1="774.20" x2="100.30" y2="774.20" stroke="#0505ff" stroke-width="1.2"/>
<line x1="89.30" y1="768.50" x2="89.30" y2="779.40" stroke="#0505ff" stroke-width="1.2"/>
<line x1="83.70" y1="768.50" x2="94.90" y2="768.50" stroke="#0505ff" stroke-width="1.2"/>
<line x1="83.70" y1="779.40" x2="94.90" y2="779.40" stroke="#0505ff" stroke-width="1.2"/>
<line x1="132.80" y1="848.80" x2="132.80" y2="734.20" stroke="#2b2b2b" stroke-width="1.2"/>
<line x1="130.00" y1="848.20" x2="132.80" y2="848.20" stroke="#2b2b2b" stroke-width="1.2"/>
<text x="129.40" y="852.65" font-size="10.0" text-anchor="end" font-weight="normal" font-style="normal" fill="#111">0</text>
<line x1="130.00" y1="819.85" x2="132.80" y2="819.85" stroke="#2b2b2b" stroke-width="1.2"/>
<text x="129.40" y="824.30" font-size="10.0" text-anchor="end" font-weight="normal" font-style="normal" fill="#111">2</text>
<line x1="130.00" y1="791.50" x2="132.80" y2="791.50" stroke="#2b2b2b" stroke-width="1.2"/>
<text x="129.40" y="795.95" font-size="10.0" text-anchor="end" font-weight="normal" font-style="normal" fill="#111">4</text>
<line x1="130.00" y1="763.15" x2="132.80" y2="763.15" stroke="#2b2b2b" stroke-width="1.2"/>
<text x="129.40" y="767.60" font-size="10.0" text-anchor="end" font-weight="normal" font-style="normal" fill="#111">6</text>
<line x1="130.00" y1="734.80" x2="132.80" y2="734.80" stroke="#2b2b2b" stroke-width="1.2"/>
<text x="129.40" y="739.25" font-size="10.0" text-anchor="end" font-weight="normal" font-style="normal" fill="#111">8</text>
<line x1="132.20" y1="848.20" x2="197.00" y2="848.20" stroke="#2b2b2b" stroke-width="1.2"/>
<line x1="150.20" y1="848.20" x2="150.20" y2="850.80" stroke="#2b2b2b" stroke-width="1.2"/>
<line x1="184.60" y1="848.20" x2="184.60" y2="850.80" stroke="#2b2b2b" stroke-width="1.2"/>
<text x="165.50" y="734.60" font-size="10.0" text-anchor="middle" font-weight="normal" font-style="normal" fill="#111">Brain</text>
<text x="152.30" y="747.40" font-size="7.6" fill="#111" text-anchor="start"><tspan font-style="italic">P</tspan> = 0.006</text>
<text x="121.50" y="789.80" font-size="10.0" text-anchor="middle" font-weight="normal" font-style="normal" fill="#111" transform="rotate(-90 121.50 789.80)" xml:space="preserve">HSV-1 titer (X10<tspan font-size="7" dy="-3.6">8</tspan><tspan dy="3.6"> PFU/g)</tspan></text>
<ellipse cx="141.30" cy="814.40" rx="2.7" ry="2.7" fill="#ef157c"/>
<ellipse cx="150.20" cy="812.80" rx="2.7" ry="2.7" fill="#ef157c"/>
<ellipse cx="159.00" cy="818.00" rx="2.7" ry="2.7" fill="#ef157c"/>
<ellipse cx="154.30" cy="826.60" rx="2.7" ry="2.7" fill="#ef157c"/>
<ellipse cx="145.60" cy="829.70" rx="2.7" ry="2.7" fill="#ef157c"/>
<line x1="139.20" y1="820.20" x2="161.20" y2="820.20" stroke="#ef157c" stroke-width="1.2"/>
<line x1="150.20" y1="812.80" x2="150.20" y2="827.60" stroke="#ef157c" stroke-width="1.2"/>
<line x1="144.60" y1="812.80" x2="155.80" y2="812.80" stroke="#ef157c" stroke-width="1.2"/>
<line x1="144.60" y1="827.60" x2="155.80" y2="827.60" stroke="#ef157c" stroke-width="1.2"/>
<rect x="182.10" y="754.20" width="5.0" height="5.0" fill="#0505ff"/>
<rect x="182.10" y="767.10" width="5.0" height="5.0" fill="#0505ff"/>
<rect x="182.10" y="788.80" width="5.0" height="5.0" fill="#0505ff"/>
<rect x="176.30" y="799.70" width="5.0" height="5.0" fill="#0505ff"/>
<rect x="187.20" y="799.70" width="5.0" height="5.0" fill="#0505ff"/>
<line x1="173.60" y1="784.30" x2="195.60" y2="784.30" stroke="#0505ff" stroke-width="1.2"/>
<line x1="184.60" y1="763.70" x2="184.60" y2="804.70" stroke="#0505ff" stroke-width="1.2"/>
<line x1="179.00" y1="763.70" x2="190.20" y2="763.70" stroke="#0505ff" stroke-width="1.2"/>
<line x1="179.00" y1="804.70" x2="190.20" y2="804.70" stroke="#0505ff" stroke-width="1.2"/>
<ellipse cx="205.70" cy="734.90" rx="4.1" ry="4.1" fill="#ef157c"/>
<rect x="201.70" y="746.90" width="8.0" height="8.0" fill="#0505ff"/>
<text x="214.70" y="738.20" font-size="10.0" fill="#111" text-anchor="start"><tspan font-style="italic">Arih1</tspan><tspan font-size="6.6" dy="-3.9" font-style="normal">fl/fl</tspan><tspan dy="3.9"></tspan></text>
<text x="214.70" y="754.60" font-size="10.0" fill="#111" text-anchor="start"><tspan font-style="italic">Lyz2</tspan>-Cre</text>
<text x="214.70" y="766.60" font-size="10.0" fill="#111" text-anchor="start"><tspan font-style="italic">Arih1</tspan><tspan font-size="6.6" dy="-3.9" font-style="normal">fl/fl</tspan><tspan dy="3.9"></tspan></text>
<text x="285.50" y="729.60" font-size="14" text-anchor="start" font-weight="bold" font-style="normal" fill="#000">l</text>
<text x="385.60" y="731.80" font-size="10.0" fill="#111" text-anchor="middle"><tspan font-style="italic">Arih1</tspan><tspan font-size="6.6" dy="-3.9" font-style="normal">fl/fl</tspan><tspan dy="3.9"></tspan></text>
<g clip-path="url(#cl1)">
<rect x="303.4" y="734.5" width="161.9" height="107.7" fill="#ffffff"/>
<path d="M303 777.5 Q 305.5 771.5 308.8 766.8 Q 313 761 317.5 756.3 Q 322 751.5 326.3 748.3 Q 331 746 335 744.6 Q 339 742.8 342.5 741.2 Q 346 739.2 349 737.9 Q 353 736.4 357.1 736.2 Q 364 736.3 369.5 737.4 Q 375 738.5 379.4 739.9 L 385.6 742.4 L 391.8 738.7 Q 397 737.3 404.2 737 Q 414 737.2 424.1 738.7 Q 434 740 444 742.4 Q 452 744.5 458.8 747.4 L 466 751.5 L 466 843 L 303 843 Z" fill="#efa3d4"/>
<path d="M326.8 742.8 Q 330 739 336 736.9 Q 341 735.4 345.5 735.5 Q 343 737.8 338 739.8 Q 332 742 327.8 743.4 Z" fill="#eba3d8"/>
<path d="M384 762 Q 400 755 418 754.5 Q 440 755 466 759" stroke="#bb96de" stroke-width="6" fill="none" opacity="0.35" filter="url(#bl2)"/>
<path d="M312 780 Q 318 768 330 758 Q 336 753 342 750" stroke="#bb96de" stroke-width="6" fill="none" opacity="0.3" filter="url(#bl2)"/>
<ellipse cx="325" cy="776" rx="4" ry="4" fill="#a888d8" opacity="0.5" filter="url(#bl1)"/>
<path d="M401.8 780.9 Q 409 783 416.7 785.1 Q 423 787 429 789.6" stroke="#fbe6f3" stroke-width="1" fill="none"/>
<path d="M303 777.5 Q 305.5 771.5 308.8 766.8 Q 313 761 317.5 756.3 Q 322 751.5 326.3 748.3 Q 331 746 335 744.6 Q 339 742.8 342.5 741.2 Q 346 739.2 349 737.9 Q 353 736.4 357.1 736.2 Q 364 736.3 369.5 737.4 Q 375 738.5 379.4 739.9 L 385.6 742.4 L 391.8 738.7 Q 397 737.3 404.2 737 Q 414 737.2 424.1 738.7 Q 434 740 444 742.4 Q 452 744.5 458.8 747.4 L 466 751.5 L 466 843 L 303 843 Z" fill="#fff" filter="url(#tex)" opacity="0.5"/>
</g>
<rect x="303.4" y="734.5" width="161.9" height="107.7" fill="none" stroke="#222" stroke-width="1"/>
<polygon points="347.10,735.57 343.53,742.07 350.68,742.07" fill="#000"/>
<polygon points="405.09,750.29 402.41,743.37 397.81,748.85" fill="#000"/>
<polygon points="325.80,767.43 329.38,760.93 322.23,760.93" fill="#000"/>
<text x="448.70" y="834.40" font-size="8.0" text-anchor="middle" font-weight="normal" font-style="normal" fill="#000">200µm</text>
<line x1="440.80" y1="838.20" x2="455.30" y2="838.20" stroke="#000" stroke-width="1.1"/>
<text x="555.10" y="731.80" font-size="10.0" fill="#111" text-anchor="middle"><tspan font-style="italic">Lyz2</tspan>-Cre;<tspan font-style="italic">Arih1</tspan><tspan font-size="6.6" dy="-3.9" font-style="normal">fl/fl</tspan><tspan dy="3.9"></tspan></text>
<g clip-path="url(#cl2)">
<rect x="473.7" y="734.5" width="162.1" height="107.7" fill="#ffffff"/>
<path d="M473 743.7 Q 484 741.8 494.8 740.4 Q 507 739.2 519.6 738.7 Q 532 738.6 544.5 739.4 Q 553 740.3 561.8 741.9 Q 569 743.5 576.7 746.1 Q 583 747.5 589.1 748.6 Q 599 751.3 609 754.8 Q 617 757.8 623.9 761 Q 630 763 637 765 L 637 843 L 473 843 Z" fill="#efa3d4"/>
<path d="M532 763 Q 552 760 570 761 Q 585 763 596 770 Q 608 778 620 785 Q 628 789 637 792" stroke="#bb96de" stroke-width="8" fill="none" opacity="0.32" filter="url(#bl2)"/>
<path d="M500 822 Q 530 812 560 808 Q 580 806 600 807" stroke="#f5cfe8" stroke-width="0.9" fill="none" opacity="0.8"/>
<path d="M473 743.7 Q 484 741.8 494.8 740.4 Q 507 739.2 519.6 738.7 Q 532 738.6 544.5 739.4 Q 553 740.3 561.8 741.9 Q 569 743.5 576.7 746.1 Q 583 747.5 589.1 748.6 Q 599 751.3 609 754.8 Q 617 757.8 623.9 761 Q 630 763 637 765 L 637 843 L 473 843 Z" fill="#fff" filter="url(#tex)" opacity="0.5"/>
</g>
<rect x="473.7" y="734.5" width="162.1" height="107.7" fill="none" stroke="#222" stroke-width="1"/>
<polygon points="584.79,758.69 582.11,751.77 577.51,757.25" fill="#000"/>
<text x="619.50" y="834.40" font-size="8.0" text-anchor="middle" font-weight="normal" font-style="normal" fill="#000">200µm</text>
<line x1="612.10" y1="838.20" x2="625.80" y2="838.20" stroke="#000" stroke-width="1.1"/>
</svg></body></html>
